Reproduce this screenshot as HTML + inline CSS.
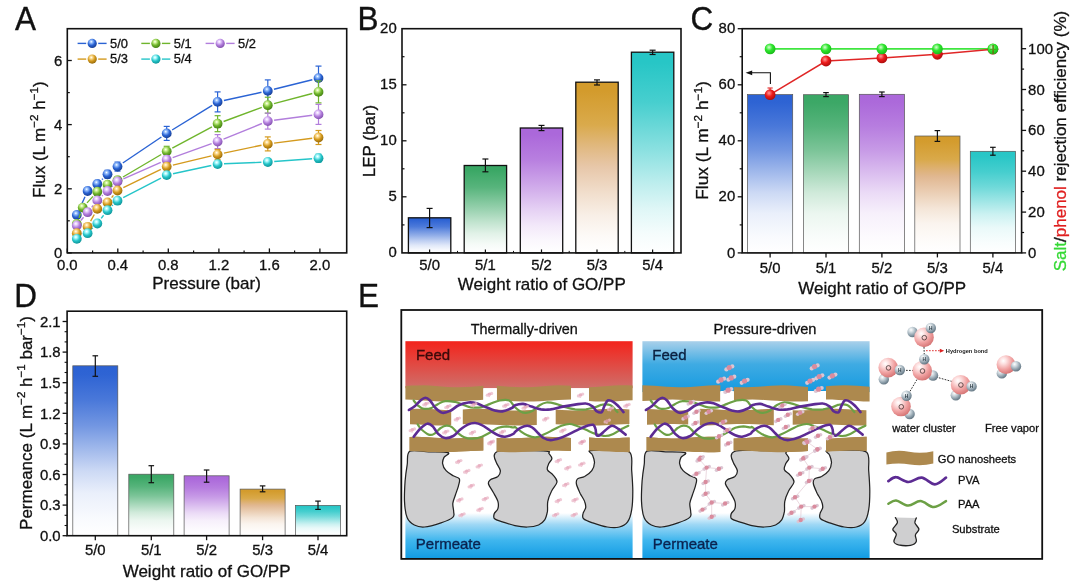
<!DOCTYPE html>
<html lang="en">
<head>
<meta charset="utf-8">
<title>Figure</title>
<style>
html,body{margin:0;padding:0;background:#ffffff;}
body{width:1080px;height:586px;overflow:hidden;font-family:"Liberation Sans", sans-serif;}
svg{display:block;will-change:transform;filter:blur(0.3px);}
svg text{font-family:"Liberation Sans", sans-serif;}
</style>
</head>
<body>
<svg width="1080" height="586" viewBox="0 0 1080 586">
<rect x="0" y="0" width="1080" height="586" fill="#ffffff"/>
<defs>
<radialGradient id="sb" cx="0.40" cy="0.32" r="0.72"><stop offset="0" stop-color="#ffffff"/><stop offset="0.18" stop-color="#9cc4ff"/><stop offset="0.55" stop-color="#2a63d4"/><stop offset="1" stop-color="#163a8a"/></radialGradient>
<linearGradient id="barb" x1="0" y1="0" x2="0" y2="1"><stop offset="0" stop-color="#2c62d3" stop-opacity="1"/><stop offset="0.05" stop-color="#2c62d3" stop-opacity="0.99"/><stop offset="0.2" stop-color="#2c62d3" stop-opacity="0.86"/><stop offset="0.35" stop-color="#2c62d3" stop-opacity="0.67"/><stop offset="0.5" stop-color="#2c62d3" stop-opacity="0.43"/><stop offset="0.62" stop-color="#2c62d3" stop-opacity="0.24"/><stop offset="0.75" stop-color="#2c62d3" stop-opacity="0.1"/><stop offset="0.9" stop-color="#2c62d3" stop-opacity="0.03"/><stop offset="1" stop-color="#2c62d3" stop-opacity="0"/></linearGradient>
<linearGradient id="barBb" x1="0" y1="0" x2="0" y2="1"><stop offset="0" stop-color="#2c62d3" stop-opacity="1"/><stop offset="0.05" stop-color="#2c62d3" stop-opacity="1"/><stop offset="0.25" stop-color="#2c62d3" stop-opacity="0.85"/><stop offset="0.5" stop-color="#2c62d3" stop-opacity="0.52"/><stop offset="0.65" stop-color="#2c62d3" stop-opacity="0.31"/><stop offset="0.78" stop-color="#2c62d3" stop-opacity="0.15"/><stop offset="0.9" stop-color="#2c62d3" stop-opacity="0.05"/><stop offset="1" stop-color="#2c62d3" stop-opacity="0"/></linearGradient>
<radialGradient id="sg" cx="0.40" cy="0.32" r="0.72"><stop offset="0" stop-color="#ffffff"/><stop offset="0.18" stop-color="#d3f59a"/><stop offset="0.55" stop-color="#6fb52c"/><stop offset="1" stop-color="#3f7a10"/></radialGradient>
<linearGradient id="barg" x1="0" y1="0" x2="0" y2="1"><stop offset="0" stop-color="#3aa765" stop-opacity="1"/><stop offset="0.05" stop-color="#3aa765" stop-opacity="0.99"/><stop offset="0.2" stop-color="#3aa765" stop-opacity="0.86"/><stop offset="0.35" stop-color="#3aa765" stop-opacity="0.67"/><stop offset="0.5" stop-color="#3aa765" stop-opacity="0.43"/><stop offset="0.62" stop-color="#3aa765" stop-opacity="0.24"/><stop offset="0.75" stop-color="#3aa765" stop-opacity="0.1"/><stop offset="0.9" stop-color="#3aa765" stop-opacity="0.03"/><stop offset="1" stop-color="#3aa765" stop-opacity="0"/></linearGradient>
<linearGradient id="barBg" x1="0" y1="0" x2="0" y2="1"><stop offset="0" stop-color="#3aa765" stop-opacity="1"/><stop offset="0.05" stop-color="#3aa765" stop-opacity="1"/><stop offset="0.25" stop-color="#3aa765" stop-opacity="0.85"/><stop offset="0.5" stop-color="#3aa765" stop-opacity="0.52"/><stop offset="0.65" stop-color="#3aa765" stop-opacity="0.31"/><stop offset="0.78" stop-color="#3aa765" stop-opacity="0.15"/><stop offset="0.9" stop-color="#3aa765" stop-opacity="0.05"/><stop offset="1" stop-color="#3aa765" stop-opacity="0"/></linearGradient>
<radialGradient id="sp" cx="0.40" cy="0.32" r="0.72"><stop offset="0" stop-color="#ffffff"/><stop offset="0.18" stop-color="#ecd6ff"/><stop offset="0.55" stop-color="#b27edc"/><stop offset="1" stop-color="#7d4aa8"/></radialGradient>
<linearGradient id="barp" x1="0" y1="0" x2="0" y2="1"><stop offset="0" stop-color="#ab68da" stop-opacity="1"/><stop offset="0.05" stop-color="#ab68da" stop-opacity="0.99"/><stop offset="0.2" stop-color="#ab68da" stop-opacity="0.86"/><stop offset="0.35" stop-color="#ab68da" stop-opacity="0.67"/><stop offset="0.5" stop-color="#ab68da" stop-opacity="0.43"/><stop offset="0.62" stop-color="#ab68da" stop-opacity="0.24"/><stop offset="0.75" stop-color="#ab68da" stop-opacity="0.1"/><stop offset="0.9" stop-color="#ab68da" stop-opacity="0.03"/><stop offset="1" stop-color="#ab68da" stop-opacity="0"/></linearGradient>
<linearGradient id="barBp" x1="0" y1="0" x2="0" y2="1"><stop offset="0" stop-color="#ab68da" stop-opacity="1"/><stop offset="0.05" stop-color="#ab68da" stop-opacity="1"/><stop offset="0.25" stop-color="#ab68da" stop-opacity="0.85"/><stop offset="0.5" stop-color="#ab68da" stop-opacity="0.52"/><stop offset="0.65" stop-color="#ab68da" stop-opacity="0.31"/><stop offset="0.78" stop-color="#ab68da" stop-opacity="0.15"/><stop offset="0.9" stop-color="#ab68da" stop-opacity="0.05"/><stop offset="1" stop-color="#ab68da" stop-opacity="0"/></linearGradient>
<radialGradient id="so" cx="0.40" cy="0.32" r="0.72"><stop offset="0" stop-color="#ffffff"/><stop offset="0.18" stop-color="#ffe09a"/><stop offset="0.55" stop-color="#d49a1e"/><stop offset="1" stop-color="#8f6408"/></radialGradient>
<linearGradient id="baro" x1="0" y1="0" x2="0" y2="1"><stop offset="0" stop-color="#d39b2c" stop-opacity="1"/><stop offset="0.05" stop-color="#d39b2c" stop-opacity="0.99"/><stop offset="0.2" stop-color="#d39b2c" stop-opacity="0.86"/><stop offset="0.35" stop-color="#d2955c" stop-opacity="0.67"/><stop offset="0.5" stop-color="#d2955c" stop-opacity="0.43"/><stop offset="0.62" stop-color="#d2955c" stop-opacity="0.24"/><stop offset="0.75" stop-color="#d2955c" stop-opacity="0.1"/><stop offset="0.9" stop-color="#d2955c" stop-opacity="0.03"/><stop offset="1" stop-color="#d2955c" stop-opacity="0"/></linearGradient>
<linearGradient id="barBo" x1="0" y1="0" x2="0" y2="1"><stop offset="0" stop-color="#d39b2c" stop-opacity="1"/><stop offset="0.05" stop-color="#d39b2c" stop-opacity="1"/><stop offset="0.25" stop-color="#d39b2c" stop-opacity="0.85"/><stop offset="0.5" stop-color="#d2955c" stop-opacity="0.52"/><stop offset="0.65" stop-color="#d2955c" stop-opacity="0.31"/><stop offset="0.78" stop-color="#d2955c" stop-opacity="0.15"/><stop offset="0.9" stop-color="#d2955c" stop-opacity="0.05"/><stop offset="1" stop-color="#d2955c" stop-opacity="0"/></linearGradient>
<radialGradient id="st" cx="0.40" cy="0.32" r="0.72"><stop offset="0" stop-color="#ffffff"/><stop offset="0.18" stop-color="#b2fbff"/><stop offset="0.55" stop-color="#25c5c9"/><stop offset="1" stop-color="#0c8f93"/></radialGradient>
<linearGradient id="bart" x1="0" y1="0" x2="0" y2="1"><stop offset="0" stop-color="#27c6c6" stop-opacity="1"/><stop offset="0.05" stop-color="#27c6c6" stop-opacity="0.99"/><stop offset="0.2" stop-color="#27c6c6" stop-opacity="0.86"/><stop offset="0.35" stop-color="#27c6c6" stop-opacity="0.67"/><stop offset="0.5" stop-color="#27c6c6" stop-opacity="0.43"/><stop offset="0.62" stop-color="#27c6c6" stop-opacity="0.24"/><stop offset="0.75" stop-color="#27c6c6" stop-opacity="0.1"/><stop offset="0.9" stop-color="#27c6c6" stop-opacity="0.03"/><stop offset="1" stop-color="#27c6c6" stop-opacity="0"/></linearGradient>
<linearGradient id="barBt" x1="0" y1="0" x2="0" y2="1"><stop offset="0" stop-color="#27c6c6" stop-opacity="1"/><stop offset="0.05" stop-color="#27c6c6" stop-opacity="1"/><stop offset="0.25" stop-color="#27c6c6" stop-opacity="0.85"/><stop offset="0.5" stop-color="#27c6c6" stop-opacity="0.52"/><stop offset="0.65" stop-color="#27c6c6" stop-opacity="0.31"/><stop offset="0.78" stop-color="#27c6c6" stop-opacity="0.15"/><stop offset="0.9" stop-color="#27c6c6" stop-opacity="0.05"/><stop offset="1" stop-color="#27c6c6" stop-opacity="0"/></linearGradient>
<radialGradient id="sgreen" cx="0.4" cy="0.35" r="0.7"><stop offset="0" stop-color="#d6ffd0"/><stop offset="0.45" stop-color="#2fe62f"/><stop offset="1" stop-color="#16b516"/></radialGradient>
<radialGradient id="sred" cx="0.4" cy="0.35" r="0.7"><stop offset="0" stop-color="#ff9a9a"/><stop offset="0.45" stop-color="#ee1c1c"/><stop offset="1" stop-color="#a50a0a"/></radialGradient>
<radialGradient id="oxy" cx="0.36" cy="0.30" r="0.78"><stop offset="0" stop-color="#ffffff"/><stop offset="0.22" stop-color="#fde0e0"/><stop offset="0.6" stop-color="#f0a0a0"/><stop offset="1" stop-color="#cf6c6c"/></radialGradient>
<radialGradient id="hyd" cx="0.36" cy="0.30" r="0.78"><stop offset="0" stop-color="#ffffff"/><stop offset="0.3" stop-color="#cdd7dd"/><stop offset="0.7" stop-color="#8799a5"/><stop offset="1" stop-color="#566975"/></radialGradient>
<linearGradient id="gred" x1="0" y1="0" x2="0" y2="1"><stop offset="0" stop-color="#f3241c"/><stop offset="1" stop-color="#cf6f6a"/></linearGradient>
<linearGradient id="gblueTop" x1="0" y1="0" x2="0" y2="1"><stop offset="0" stop-color="#a9d0ea"/><stop offset="0.45" stop-color="#3fabe3"/><stop offset="1" stop-color="#159ae0"/></linearGradient>
<linearGradient id="gblueBot" x1="0" y1="0" x2="0" y2="1"><stop offset="0" stop-color="#ffffff"/><stop offset="0.25" stop-color="#9fd8f5"/><stop offset="0.6" stop-color="#3fb6ee"/><stop offset="1" stop-color="#119be3"/></linearGradient>
</defs>
<text transform="translate(15.0,29.8) scale(0.94,1)" font-size="33.5" fill="#111" stroke="#111" stroke-width="0.35">A</text>
<text transform="translate(357.4,30.0) scale(0.94,1)" font-size="33.5" fill="#111" stroke="#111" stroke-width="0.35">B</text>
<text transform="translate(690.6,30.2) scale(0.94,1)" font-size="33.5" fill="#111" stroke="#111" stroke-width="0.35">C</text>
<text transform="translate(14.2,306.9) scale(0.94,1)" font-size="33.5" fill="#111" stroke="#111" stroke-width="0.35">D</text>
<text transform="translate(358.0,306.9) scale(0.94,1)" font-size="33.5" fill="#111" stroke="#111" stroke-width="0.35">E</text>
<line x1="67.3" y1="252.9" x2="67.3" y2="248.4" stroke="#111" stroke-width="1.3" />
<text x="67.3" y="269.8" font-size="14.9" text-anchor="middle" fill="#111"  stroke="#111" stroke-width="0.3">0.0</text>
<line x1="117.8" y1="252.9" x2="117.8" y2="248.4" stroke="#111" stroke-width="1.3" />
<text x="117.8" y="269.8" font-size="14.9" text-anchor="middle" fill="#111"  stroke="#111" stroke-width="0.3">0.4</text>
<line x1="168.3" y1="252.9" x2="168.3" y2="248.4" stroke="#111" stroke-width="1.3" />
<text x="168.3" y="269.8" font-size="14.9" text-anchor="middle" fill="#111"  stroke="#111" stroke-width="0.3">0.8</text>
<line x1="218.9" y1="252.9" x2="218.9" y2="248.4" stroke="#111" stroke-width="1.3" />
<text x="218.9" y="269.8" font-size="14.9" text-anchor="middle" fill="#111"  stroke="#111" stroke-width="0.3">1.2</text>
<line x1="269.4" y1="252.9" x2="269.4" y2="248.4" stroke="#111" stroke-width="1.3" />
<text x="269.4" y="269.8" font-size="14.9" text-anchor="middle" fill="#111"  stroke="#111" stroke-width="0.3">1.6</text>
<line x1="319.9" y1="252.9" x2="319.9" y2="248.4" stroke="#111" stroke-width="1.3" />
<text x="319.9" y="269.8" font-size="14.9" text-anchor="middle" fill="#111"  stroke="#111" stroke-width="0.3">2.0</text>
<line x1="92.6" y1="252.9" x2="92.6" y2="250.4" stroke="#111" stroke-width="1.2" />
<line x1="143.1" y1="252.9" x2="143.1" y2="250.4" stroke="#111" stroke-width="1.2" />
<line x1="193.6" y1="252.9" x2="193.6" y2="250.4" stroke="#111" stroke-width="1.2" />
<line x1="244.1" y1="252.9" x2="244.1" y2="250.4" stroke="#111" stroke-width="1.2" />
<line x1="294.6" y1="252.9" x2="294.6" y2="250.4" stroke="#111" stroke-width="1.2" />
<line x1="67.3" y1="252.9" x2="71.8" y2="252.9" stroke="#111" stroke-width="1.3" />
<text x="62.3" y="258.2" font-size="14.9" text-anchor="end" fill="#111"  stroke="#111" stroke-width="0.3">0</text>
<line x1="67.3" y1="188.8" x2="71.8" y2="188.8" stroke="#111" stroke-width="1.3" />
<text x="62.3" y="194.1" font-size="14.9" text-anchor="end" fill="#111"  stroke="#111" stroke-width="0.3">2</text>
<line x1="67.3" y1="124.6" x2="71.8" y2="124.6" stroke="#111" stroke-width="1.3" />
<text x="62.3" y="129.9" font-size="14.9" text-anchor="end" fill="#111"  stroke="#111" stroke-width="0.3">4</text>
<line x1="67.3" y1="60.5" x2="71.8" y2="60.5" stroke="#111" stroke-width="1.3" />
<text x="62.3" y="65.8" font-size="14.9" text-anchor="end" fill="#111"  stroke="#111" stroke-width="0.3">6</text>
<line x1="67.3" y1="220.8" x2="69.8" y2="220.8" stroke="#111" stroke-width="1.2" />
<line x1="67.3" y1="156.7" x2="69.8" y2="156.7" stroke="#111" stroke-width="1.2" />
<line x1="67.3" y1="92.6" x2="69.8" y2="92.6" stroke="#111" stroke-width="1.2" />
<text x="206.5" y="288.6" font-size="17" text-anchor="middle" fill="#111"  stroke="#111" stroke-width="0.3">Pressure (bar)</text>
<text transform="translate(44.8,139.7) rotate(-90)" font-size="17" text-anchor="middle" fill="#111" stroke="#111" stroke-width="0.3">Flux (L m<tspan dy="-6.5" font-size="11.6">−2</tspan><tspan dy="6.5" font-size="17"> h</tspan><tspan dy="-6.5" font-size="11.6">−1</tspan><tspan dy="6.5" font-size="17">)</tspan></text>
<line x1="79.4" y1="209.2" x2="85.0" y2="196.8" stroke="#2a63d4" stroke-width="1.4" />
<line x1="101.9" y1="179.6" x2="102.9" y2="178.7" stroke="#2a63d4" stroke-width="1.4" />
<line x1="122.8" y1="163.0" x2="161.4" y2="137.0" stroke="#2a63d4" stroke-width="1.4" />
<line x1="172.1" y1="130.0" x2="212.2" y2="105.3" stroke="#2a63d4" stroke-width="1.4" />
<line x1="223.9" y1="100.5" x2="261.5" y2="92.3" stroke="#2a63d4" stroke-width="1.4" />
<line x1="274.0" y1="89.3" x2="312.3" y2="79.7" stroke="#2a63d4" stroke-width="1.4" />
<line x1="76.8" y1="212.0" x2="76.8" y2="218.0" stroke="#2a63d4" stroke-width="1.2" />
<line x1="73.8" y1="212.0" x2="79.8" y2="212.0" stroke="#2a63d4" stroke-width="1.2" />
<line x1="73.8" y1="218.0" x2="79.8" y2="218.0" stroke="#2a63d4" stroke-width="1.2" />
<line x1="87.6" y1="188.0" x2="87.6" y2="194.0" stroke="#2a63d4" stroke-width="1.2" />
<line x1="84.6" y1="188.0" x2="90.6" y2="188.0" stroke="#2a63d4" stroke-width="1.2" />
<line x1="84.6" y1="194.0" x2="90.6" y2="194.0" stroke="#2a63d4" stroke-width="1.2" />
<line x1="97.3" y1="180.5" x2="97.3" y2="187.5" stroke="#2a63d4" stroke-width="1.2" />
<line x1="94.3" y1="180.5" x2="100.3" y2="180.5" stroke="#2a63d4" stroke-width="1.2" />
<line x1="94.3" y1="187.5" x2="100.3" y2="187.5" stroke="#2a63d4" stroke-width="1.2" />
<line x1="107.5" y1="170.3" x2="107.5" y2="178.3" stroke="#2a63d4" stroke-width="1.2" />
<line x1="104.5" y1="170.3" x2="110.5" y2="170.3" stroke="#2a63d4" stroke-width="1.2" />
<line x1="104.5" y1="178.3" x2="110.5" y2="178.3" stroke="#2a63d4" stroke-width="1.2" />
<line x1="117.5" y1="162.1" x2="117.5" y2="171.1" stroke="#2a63d4" stroke-width="1.2" />
<line x1="114.5" y1="162.1" x2="120.5" y2="162.1" stroke="#2a63d4" stroke-width="1.2" />
<line x1="114.5" y1="171.1" x2="120.5" y2="171.1" stroke="#2a63d4" stroke-width="1.2" />
<line x1="166.7" y1="126.4" x2="166.7" y2="140.4" stroke="#2a63d4" stroke-width="1.2" />
<line x1="163.7" y1="126.4" x2="169.7" y2="126.4" stroke="#2a63d4" stroke-width="1.2" />
<line x1="163.7" y1="140.4" x2="169.7" y2="140.4" stroke="#2a63d4" stroke-width="1.2" />
<line x1="217.6" y1="91.9" x2="217.6" y2="111.9" stroke="#2a63d4" stroke-width="1.2" />
<line x1="214.6" y1="91.9" x2="220.6" y2="91.9" stroke="#2a63d4" stroke-width="1.2" />
<line x1="214.6" y1="111.9" x2="220.6" y2="111.9" stroke="#2a63d4" stroke-width="1.2" />
<line x1="267.8" y1="79.9" x2="267.8" y2="101.9" stroke="#2a63d4" stroke-width="1.2" />
<line x1="264.8" y1="79.9" x2="270.8" y2="79.9" stroke="#2a63d4" stroke-width="1.2" />
<line x1="264.8" y1="101.9" x2="270.8" y2="101.9" stroke="#2a63d4" stroke-width="1.2" />
<line x1="318.5" y1="66.1" x2="318.5" y2="90.1" stroke="#2a63d4" stroke-width="1.2" />
<line x1="315.5" y1="66.1" x2="321.5" y2="66.1" stroke="#2a63d4" stroke-width="1.2" />
<line x1="315.5" y1="90.1" x2="321.5" y2="90.1" stroke="#2a63d4" stroke-width="1.2" />
<circle cx="76.8" cy="215.0" r="4.9" fill="url(#sb)"/>
<circle cx="87.6" cy="191.0" r="4.9" fill="url(#sb)"/>
<circle cx="97.3" cy="184.0" r="4.9" fill="url(#sb)"/>
<circle cx="107.5" cy="174.3" r="4.9" fill="url(#sb)"/>
<circle cx="117.5" cy="166.6" r="4.9" fill="url(#sb)"/>
<circle cx="166.7" cy="133.4" r="4.9" fill="url(#sb)"/>
<circle cx="217.6" cy="101.9" r="4.9" fill="url(#sb)"/>
<circle cx="267.8" cy="90.9" r="4.9" fill="url(#sb)"/>
<circle cx="318.5" cy="78.1" r="4.9" fill="url(#sb)"/>
<line x1="79.0" y1="218.0" x2="80.5" y2="213.6" stroke="#6fb52c" stroke-width="1.4" />
<line x1="87.0" y1="202.9" x2="93.0" y2="196.4" stroke="#6fb52c" stroke-width="1.4" />
<line x1="123.0" y1="177.0" x2="161.2" y2="154.5" stroke="#6fb52c" stroke-width="1.4" />
<line x1="172.3" y1="148.2" x2="212.0" y2="126.8" stroke="#6fb52c" stroke-width="1.4" />
<line x1="223.6" y1="121.5" x2="261.8" y2="107.4" stroke="#6fb52c" stroke-width="1.4" />
<line x1="274.0" y1="103.6" x2="312.3" y2="93.5" stroke="#6fb52c" stroke-width="1.4" />
<line x1="76.8" y1="221.5" x2="76.8" y2="226.5" stroke="#6fb52c" stroke-width="1.2" />
<line x1="73.8" y1="221.5" x2="79.8" y2="221.5" stroke="#6fb52c" stroke-width="1.2" />
<line x1="73.8" y1="226.5" x2="79.8" y2="226.5" stroke="#6fb52c" stroke-width="1.2" />
<line x1="82.7" y1="204.6" x2="82.7" y2="210.6" stroke="#6fb52c" stroke-width="1.2" />
<line x1="79.7" y1="204.6" x2="85.7" y2="204.6" stroke="#6fb52c" stroke-width="1.2" />
<line x1="79.7" y1="210.6" x2="85.7" y2="210.6" stroke="#6fb52c" stroke-width="1.2" />
<line x1="97.3" y1="188.7" x2="97.3" y2="194.7" stroke="#6fb52c" stroke-width="1.2" />
<line x1="94.3" y1="188.7" x2="100.3" y2="188.7" stroke="#6fb52c" stroke-width="1.2" />
<line x1="94.3" y1="194.7" x2="100.3" y2="194.7" stroke="#6fb52c" stroke-width="1.2" />
<line x1="107.5" y1="181.6" x2="107.5" y2="187.6" stroke="#6fb52c" stroke-width="1.2" />
<line x1="104.5" y1="181.6" x2="110.5" y2="181.6" stroke="#6fb52c" stroke-width="1.2" />
<line x1="104.5" y1="187.6" x2="110.5" y2="187.6" stroke="#6fb52c" stroke-width="1.2" />
<line x1="117.5" y1="176.7" x2="117.5" y2="183.7" stroke="#6fb52c" stroke-width="1.2" />
<line x1="114.5" y1="176.7" x2="120.5" y2="176.7" stroke="#6fb52c" stroke-width="1.2" />
<line x1="114.5" y1="183.7" x2="120.5" y2="183.7" stroke="#6fb52c" stroke-width="1.2" />
<line x1="166.7" y1="146.3" x2="166.7" y2="156.3" stroke="#6fb52c" stroke-width="1.2" />
<line x1="163.7" y1="146.3" x2="169.7" y2="146.3" stroke="#6fb52c" stroke-width="1.2" />
<line x1="163.7" y1="156.3" x2="169.7" y2="156.3" stroke="#6fb52c" stroke-width="1.2" />
<line x1="217.6" y1="115.7" x2="217.6" y2="131.7" stroke="#6fb52c" stroke-width="1.2" />
<line x1="214.6" y1="115.7" x2="220.6" y2="115.7" stroke="#6fb52c" stroke-width="1.2" />
<line x1="214.6" y1="131.7" x2="220.6" y2="131.7" stroke="#6fb52c" stroke-width="1.2" />
<line x1="267.8" y1="97.2" x2="267.8" y2="113.2" stroke="#6fb52c" stroke-width="1.2" />
<line x1="264.8" y1="97.2" x2="270.8" y2="97.2" stroke="#6fb52c" stroke-width="1.2" />
<line x1="264.8" y1="113.2" x2="270.8" y2="113.2" stroke="#6fb52c" stroke-width="1.2" />
<line x1="318.5" y1="80.9" x2="318.5" y2="102.9" stroke="#6fb52c" stroke-width="1.2" />
<line x1="315.5" y1="80.9" x2="321.5" y2="80.9" stroke="#6fb52c" stroke-width="1.2" />
<line x1="315.5" y1="102.9" x2="321.5" y2="102.9" stroke="#6fb52c" stroke-width="1.2" />
<circle cx="76.8" cy="224.0" r="4.9" fill="url(#sg)"/>
<circle cx="82.7" cy="207.6" r="4.9" fill="url(#sg)"/>
<circle cx="97.3" cy="191.7" r="4.9" fill="url(#sg)"/>
<circle cx="107.5" cy="184.6" r="4.9" fill="url(#sg)"/>
<circle cx="117.5" cy="180.2" r="4.9" fill="url(#sg)"/>
<circle cx="166.7" cy="151.3" r="4.9" fill="url(#sg)"/>
<circle cx="217.6" cy="123.7" r="4.9" fill="url(#sg)"/>
<circle cx="267.8" cy="105.2" r="4.9" fill="url(#sg)"/>
<circle cx="318.5" cy="91.9" r="4.9" fill="url(#sg)"/>
<line x1="80.8" y1="220.5" x2="83.6" y2="217.2" stroke="#b27edc" stroke-width="1.4" />
<line x1="91.7" y1="207.3" x2="93.2" y2="205.3" stroke="#b27edc" stroke-width="1.4" />
<line x1="102.0" y1="196.1" x2="102.8" y2="195.3" stroke="#b27edc" stroke-width="1.4" />
<line x1="112.1" y1="186.6" x2="112.9" y2="185.9" stroke="#b27edc" stroke-width="1.4" />
<line x1="123.4" y1="178.9" x2="160.8" y2="162.3" stroke="#b27edc" stroke-width="1.4" />
<line x1="172.7" y1="157.6" x2="211.6" y2="143.7" stroke="#b27edc" stroke-width="1.4" />
<line x1="223.5" y1="139.2" x2="261.9" y2="123.5" stroke="#b27edc" stroke-width="1.4" />
<line x1="274.1" y1="120.3" x2="312.2" y2="115.2" stroke="#b27edc" stroke-width="1.4" />
<line x1="76.8" y1="223.0" x2="76.8" y2="228.0" stroke="#b27edc" stroke-width="1.2" />
<line x1="73.8" y1="223.0" x2="79.8" y2="223.0" stroke="#b27edc" stroke-width="1.2" />
<line x1="73.8" y1="228.0" x2="79.8" y2="228.0" stroke="#b27edc" stroke-width="1.2" />
<line x1="87.6" y1="209.2" x2="87.6" y2="215.2" stroke="#b27edc" stroke-width="1.2" />
<line x1="84.6" y1="209.2" x2="90.6" y2="209.2" stroke="#b27edc" stroke-width="1.2" />
<line x1="84.6" y1="215.2" x2="90.6" y2="215.2" stroke="#b27edc" stroke-width="1.2" />
<line x1="97.3" y1="197.4" x2="97.3" y2="203.4" stroke="#b27edc" stroke-width="1.2" />
<line x1="94.3" y1="197.4" x2="100.3" y2="197.4" stroke="#b27edc" stroke-width="1.2" />
<line x1="94.3" y1="203.4" x2="100.3" y2="203.4" stroke="#b27edc" stroke-width="1.2" />
<line x1="107.5" y1="188.0" x2="107.5" y2="194.0" stroke="#b27edc" stroke-width="1.2" />
<line x1="104.5" y1="188.0" x2="110.5" y2="188.0" stroke="#b27edc" stroke-width="1.2" />
<line x1="104.5" y1="194.0" x2="110.5" y2="194.0" stroke="#b27edc" stroke-width="1.2" />
<line x1="117.5" y1="178.5" x2="117.5" y2="184.5" stroke="#b27edc" stroke-width="1.2" />
<line x1="114.5" y1="178.5" x2="120.5" y2="178.5" stroke="#b27edc" stroke-width="1.2" />
<line x1="114.5" y1="184.5" x2="120.5" y2="184.5" stroke="#b27edc" stroke-width="1.2" />
<line x1="166.7" y1="155.7" x2="166.7" y2="163.7" stroke="#b27edc" stroke-width="1.2" />
<line x1="163.7" y1="155.7" x2="169.7" y2="155.7" stroke="#b27edc" stroke-width="1.2" />
<line x1="163.7" y1="163.7" x2="169.7" y2="163.7" stroke="#b27edc" stroke-width="1.2" />
<line x1="217.6" y1="134.6" x2="217.6" y2="148.6" stroke="#b27edc" stroke-width="1.2" />
<line x1="214.6" y1="134.6" x2="220.6" y2="134.6" stroke="#b27edc" stroke-width="1.2" />
<line x1="214.6" y1="148.6" x2="220.6" y2="148.6" stroke="#b27edc" stroke-width="1.2" />
<line x1="267.8" y1="113.1" x2="267.8" y2="129.1" stroke="#b27edc" stroke-width="1.2" />
<line x1="264.8" y1="113.1" x2="270.8" y2="113.1" stroke="#b27edc" stroke-width="1.2" />
<line x1="264.8" y1="129.1" x2="270.8" y2="129.1" stroke="#b27edc" stroke-width="1.2" />
<line x1="318.5" y1="104.4" x2="318.5" y2="124.4" stroke="#b27edc" stroke-width="1.2" />
<line x1="315.5" y1="104.4" x2="321.5" y2="104.4" stroke="#b27edc" stroke-width="1.2" />
<line x1="315.5" y1="124.4" x2="321.5" y2="124.4" stroke="#b27edc" stroke-width="1.2" />
<circle cx="76.8" cy="225.5" r="4.9" fill="url(#sp)"/>
<circle cx="87.6" cy="212.2" r="4.9" fill="url(#sp)"/>
<circle cx="97.3" cy="200.4" r="4.9" fill="url(#sp)"/>
<circle cx="107.5" cy="191.0" r="4.9" fill="url(#sp)"/>
<circle cx="117.5" cy="181.5" r="4.9" fill="url(#sp)"/>
<circle cx="166.7" cy="159.7" r="4.9" fill="url(#sp)"/>
<circle cx="217.6" cy="141.6" r="4.9" fill="url(#sp)"/>
<circle cx="267.8" cy="121.1" r="4.9" fill="url(#sp)"/>
<circle cx="318.5" cy="114.4" r="4.9" fill="url(#sp)"/>
<line x1="90.6" y1="221.2" x2="94.3" y2="214.5" stroke="#d49a1e" stroke-width="1.4" />
<line x1="111.6" y1="197.6" x2="113.4" y2="195.4" stroke="#d49a1e" stroke-width="1.4" />
<line x1="123.3" y1="187.7" x2="160.9" y2="169.4" stroke="#d49a1e" stroke-width="1.4" />
<line x1="172.9" y1="165.1" x2="211.4" y2="155.9" stroke="#d49a1e" stroke-width="1.4" />
<line x1="223.9" y1="153.1" x2="261.5" y2="145.2" stroke="#d49a1e" stroke-width="1.4" />
<line x1="274.1" y1="143.1" x2="312.2" y2="138.3" stroke="#d49a1e" stroke-width="1.4" />
<line x1="76.8" y1="231.2" x2="76.8" y2="235.2" stroke="#d49a1e" stroke-width="1.2" />
<line x1="73.8" y1="231.2" x2="79.8" y2="231.2" stroke="#d49a1e" stroke-width="1.2" />
<line x1="73.8" y1="235.2" x2="79.8" y2="235.2" stroke="#d49a1e" stroke-width="1.2" />
<line x1="87.6" y1="224.8" x2="87.6" y2="228.8" stroke="#d49a1e" stroke-width="1.2" />
<line x1="84.6" y1="224.8" x2="90.6" y2="224.8" stroke="#d49a1e" stroke-width="1.2" />
<line x1="84.6" y1="228.8" x2="90.6" y2="228.8" stroke="#d49a1e" stroke-width="1.2" />
<line x1="97.3" y1="206.4" x2="97.3" y2="211.4" stroke="#d49a1e" stroke-width="1.2" />
<line x1="94.3" y1="206.4" x2="100.3" y2="206.4" stroke="#d49a1e" stroke-width="1.2" />
<line x1="94.3" y1="211.4" x2="100.3" y2="211.4" stroke="#d49a1e" stroke-width="1.2" />
<line x1="107.5" y1="200.0" x2="107.5" y2="205.0" stroke="#d49a1e" stroke-width="1.2" />
<line x1="104.5" y1="200.0" x2="110.5" y2="200.0" stroke="#d49a1e" stroke-width="1.2" />
<line x1="104.5" y1="205.0" x2="110.5" y2="205.0" stroke="#d49a1e" stroke-width="1.2" />
<line x1="117.5" y1="187.5" x2="117.5" y2="193.5" stroke="#d49a1e" stroke-width="1.2" />
<line x1="114.5" y1="187.5" x2="120.5" y2="187.5" stroke="#d49a1e" stroke-width="1.2" />
<line x1="114.5" y1="193.5" x2="120.5" y2="193.5" stroke="#d49a1e" stroke-width="1.2" />
<line x1="166.7" y1="163.1" x2="166.7" y2="170.1" stroke="#d49a1e" stroke-width="1.2" />
<line x1="163.7" y1="163.1" x2="169.7" y2="163.1" stroke="#d49a1e" stroke-width="1.2" />
<line x1="163.7" y1="170.1" x2="169.7" y2="170.1" stroke="#d49a1e" stroke-width="1.2" />
<line x1="217.6" y1="149.4" x2="217.6" y2="159.4" stroke="#d49a1e" stroke-width="1.2" />
<line x1="214.6" y1="149.4" x2="220.6" y2="149.4" stroke="#d49a1e" stroke-width="1.2" />
<line x1="214.6" y1="159.4" x2="220.6" y2="159.4" stroke="#d49a1e" stroke-width="1.2" />
<line x1="267.8" y1="136.9" x2="267.8" y2="150.9" stroke="#d49a1e" stroke-width="1.2" />
<line x1="264.8" y1="136.9" x2="270.8" y2="136.9" stroke="#d49a1e" stroke-width="1.2" />
<line x1="264.8" y1="150.9" x2="270.8" y2="150.9" stroke="#d49a1e" stroke-width="1.2" />
<line x1="318.5" y1="130.5" x2="318.5" y2="144.5" stroke="#d49a1e" stroke-width="1.2" />
<line x1="315.5" y1="130.5" x2="321.5" y2="130.5" stroke="#d49a1e" stroke-width="1.2" />
<line x1="315.5" y1="144.5" x2="321.5" y2="144.5" stroke="#d49a1e" stroke-width="1.2" />
<circle cx="76.8" cy="233.2" r="4.9" fill="url(#so)"/>
<circle cx="87.6" cy="226.8" r="4.9" fill="url(#so)"/>
<circle cx="97.3" cy="208.9" r="4.9" fill="url(#so)"/>
<circle cx="107.5" cy="202.5" r="4.9" fill="url(#so)"/>
<circle cx="117.5" cy="190.5" r="4.9" fill="url(#so)"/>
<circle cx="166.7" cy="166.6" r="4.9" fill="url(#so)"/>
<circle cx="217.6" cy="154.4" r="4.9" fill="url(#so)"/>
<circle cx="267.8" cy="143.9" r="4.9" fill="url(#so)"/>
<circle cx="318.5" cy="137.5" r="4.9" fill="url(#so)"/>
<line x1="92.1" y1="228.7" x2="92.8" y2="228.0" stroke="#25c5c9" stroke-width="1.4" />
<line x1="101.2" y1="218.4" x2="103.6" y2="215.3" stroke="#25c5c9" stroke-width="1.4" />
<line x1="112.1" y1="205.8" x2="112.9" y2="205.1" stroke="#25c5c9" stroke-width="1.4" />
<line x1="123.2" y1="197.7" x2="161.0" y2="178.1" stroke="#25c5c9" stroke-width="1.4" />
<line x1="173.0" y1="173.7" x2="211.3" y2="165.5" stroke="#25c5c9" stroke-width="1.4" />
<line x1="224.0" y1="163.8" x2="261.4" y2="162.3" stroke="#25c5c9" stroke-width="1.4" />
<line x1="274.2" y1="161.5" x2="312.1" y2="158.7" stroke="#25c5c9" stroke-width="1.4" />
<line x1="76.8" y1="236.8" x2="76.8" y2="240.8" stroke="#25c5c9" stroke-width="1.2" />
<line x1="73.8" y1="236.8" x2="79.8" y2="236.8" stroke="#25c5c9" stroke-width="1.2" />
<line x1="73.8" y1="240.8" x2="79.8" y2="240.8" stroke="#25c5c9" stroke-width="1.2" />
<line x1="87.6" y1="231.2" x2="87.6" y2="235.2" stroke="#25c5c9" stroke-width="1.2" />
<line x1="84.6" y1="231.2" x2="90.6" y2="231.2" stroke="#25c5c9" stroke-width="1.2" />
<line x1="84.6" y1="235.2" x2="90.6" y2="235.2" stroke="#25c5c9" stroke-width="1.2" />
<line x1="97.3" y1="221.5" x2="97.3" y2="225.5" stroke="#25c5c9" stroke-width="1.2" />
<line x1="94.3" y1="221.5" x2="100.3" y2="221.5" stroke="#25c5c9" stroke-width="1.2" />
<line x1="94.3" y1="225.5" x2="100.3" y2="225.5" stroke="#25c5c9" stroke-width="1.2" />
<line x1="107.5" y1="207.7" x2="107.5" y2="212.7" stroke="#25c5c9" stroke-width="1.2" />
<line x1="104.5" y1="207.7" x2="110.5" y2="207.7" stroke="#25c5c9" stroke-width="1.2" />
<line x1="104.5" y1="212.7" x2="110.5" y2="212.7" stroke="#25c5c9" stroke-width="1.2" />
<line x1="117.5" y1="198.2" x2="117.5" y2="203.2" stroke="#25c5c9" stroke-width="1.2" />
<line x1="114.5" y1="198.2" x2="120.5" y2="198.2" stroke="#25c5c9" stroke-width="1.2" />
<line x1="114.5" y1="203.2" x2="120.5" y2="203.2" stroke="#25c5c9" stroke-width="1.2" />
<line x1="166.7" y1="172.1" x2="166.7" y2="178.1" stroke="#25c5c9" stroke-width="1.2" />
<line x1="163.7" y1="172.1" x2="169.7" y2="172.1" stroke="#25c5c9" stroke-width="1.2" />
<line x1="163.7" y1="178.1" x2="169.7" y2="178.1" stroke="#25c5c9" stroke-width="1.2" />
<line x1="217.6" y1="161.1" x2="217.6" y2="167.1" stroke="#25c5c9" stroke-width="1.2" />
<line x1="214.6" y1="161.1" x2="220.6" y2="161.1" stroke="#25c5c9" stroke-width="1.2" />
<line x1="214.6" y1="167.1" x2="220.6" y2="167.1" stroke="#25c5c9" stroke-width="1.2" />
<line x1="267.8" y1="159.0" x2="267.8" y2="165.0" stroke="#25c5c9" stroke-width="1.2" />
<line x1="264.8" y1="159.0" x2="270.8" y2="159.0" stroke="#25c5c9" stroke-width="1.2" />
<line x1="264.8" y1="165.0" x2="270.8" y2="165.0" stroke="#25c5c9" stroke-width="1.2" />
<line x1="318.5" y1="154.2" x2="318.5" y2="162.2" stroke="#25c5c9" stroke-width="1.2" />
<line x1="315.5" y1="154.2" x2="321.5" y2="154.2" stroke="#25c5c9" stroke-width="1.2" />
<line x1="315.5" y1="162.2" x2="321.5" y2="162.2" stroke="#25c5c9" stroke-width="1.2" />
<circle cx="76.8" cy="238.8" r="4.9" fill="url(#st)"/>
<circle cx="87.6" cy="233.2" r="4.9" fill="url(#st)"/>
<circle cx="97.3" cy="223.5" r="4.9" fill="url(#st)"/>
<circle cx="107.5" cy="210.2" r="4.9" fill="url(#st)"/>
<circle cx="117.5" cy="200.7" r="4.9" fill="url(#st)"/>
<circle cx="166.7" cy="175.1" r="4.9" fill="url(#st)"/>
<circle cx="217.6" cy="164.1" r="4.9" fill="url(#st)"/>
<circle cx="267.8" cy="162.0" r="4.9" fill="url(#st)"/>
<circle cx="318.5" cy="158.2" r="4.9" fill="url(#st)"/>
<line x1="77.6" y1="43.4" x2="86.2" y2="43.4" stroke="#2a63d4" stroke-width="1.4" />
<line x1="98.2" y1="43.4" x2="106.6" y2="43.4" stroke="#2a63d4" stroke-width="1.4" />
<circle cx="92.2" cy="43.4" r="4.6" fill="url(#sb)"/>
<text x="110.1" y="47.7" font-size="12.9" text-anchor="start" fill="#111"  stroke="#111" stroke-width="0.3">5/0</text>
<line x1="141.3" y1="43.4" x2="149.9" y2="43.4" stroke="#6fb52c" stroke-width="1.4" />
<line x1="161.9" y1="43.4" x2="170.3" y2="43.4" stroke="#6fb52c" stroke-width="1.4" />
<circle cx="155.9" cy="43.4" r="4.6" fill="url(#sg)"/>
<text x="173.8" y="47.7" font-size="12.9" text-anchor="start" fill="#111"  stroke="#111" stroke-width="0.3">5/1</text>
<line x1="205.6" y1="43.4" x2="214.2" y2="43.4" stroke="#b27edc" stroke-width="1.4" />
<line x1="226.2" y1="43.4" x2="234.6" y2="43.4" stroke="#b27edc" stroke-width="1.4" />
<circle cx="220.2" cy="43.4" r="4.6" fill="url(#sp)"/>
<text x="238.1" y="47.7" font-size="12.9" text-anchor="start" fill="#111"  stroke="#111" stroke-width="0.3">5/2</text>
<line x1="77.6" y1="59.1" x2="86.2" y2="59.1" stroke="#d49a1e" stroke-width="1.4" />
<line x1="98.2" y1="59.1" x2="106.6" y2="59.1" stroke="#d49a1e" stroke-width="1.4" />
<circle cx="92.2" cy="59.1" r="4.6" fill="url(#so)"/>
<text x="110.1" y="63.4" font-size="12.9" text-anchor="start" fill="#111"  stroke="#111" stroke-width="0.3">5/3</text>
<line x1="141.3" y1="59.1" x2="149.9" y2="59.1" stroke="#25c5c9" stroke-width="1.4" />
<line x1="161.9" y1="59.1" x2="170.3" y2="59.1" stroke="#25c5c9" stroke-width="1.4" />
<circle cx="155.9" cy="59.1" r="4.6" fill="url(#st)"/>
<text x="173.8" y="63.4" font-size="12.9" text-anchor="start" fill="#111"  stroke="#111" stroke-width="0.3">5/4</text>
<rect x="67.3" y="28.7" width="279.4" height="224.2" fill="none" stroke="#111" stroke-width="1.6"/>
<rect x="408.4" y="217.8" width="42.4" height="35.1" fill="url(#barBb)" stroke="#111" stroke-width="1.3"/>
<line x1="429.6" y1="208.4" x2="429.6" y2="227.6" stroke="#111" stroke-width="1.2" />
<line x1="426.6" y1="208.4" x2="432.6" y2="208.4" stroke="#111" stroke-width="1.2" />
<line x1="426.6" y1="227.6" x2="432.6" y2="227.6" stroke="#111" stroke-width="1.2" />
<line x1="429.6" y1="252.9" x2="429.6" y2="249.4" stroke="#111" stroke-width="1.2" />
<text x="429.6" y="269.5" font-size="14.9" text-anchor="middle" fill="#111"  stroke="#111" stroke-width="0.3">5/0</text>
<rect x="464.2" y="165.5" width="42.4" height="87.4" fill="url(#barBg)" stroke="#111" stroke-width="1.3"/>
<line x1="485.4" y1="159.0" x2="485.4" y2="171.8" stroke="#111" stroke-width="1.2" />
<line x1="482.4" y1="159.0" x2="488.4" y2="159.0" stroke="#111" stroke-width="1.2" />
<line x1="482.4" y1="171.8" x2="488.4" y2="171.8" stroke="#111" stroke-width="1.2" />
<line x1="485.4" y1="252.9" x2="485.4" y2="249.4" stroke="#111" stroke-width="1.2" />
<text x="485.4" y="269.5" font-size="14.9" text-anchor="middle" fill="#111"  stroke="#111" stroke-width="0.3">5/1</text>
<rect x="520.3" y="128.0" width="42.4" height="124.9" fill="url(#barBp)" stroke="#111" stroke-width="1.3"/>
<line x1="541.5" y1="125.4" x2="541.5" y2="130.6" stroke="#111" stroke-width="1.2" />
<line x1="538.5" y1="125.4" x2="544.5" y2="125.4" stroke="#111" stroke-width="1.2" />
<line x1="538.5" y1="130.6" x2="544.5" y2="130.6" stroke="#111" stroke-width="1.2" />
<line x1="541.5" y1="252.9" x2="541.5" y2="249.4" stroke="#111" stroke-width="1.2" />
<text x="541.5" y="269.5" font-size="14.9" text-anchor="middle" fill="#111"  stroke="#111" stroke-width="0.3">5/2</text>
<rect x="575.8" y="82.2" width="42.4" height="170.7" fill="url(#barBo)" stroke="#111" stroke-width="1.3"/>
<line x1="597.0" y1="79.9" x2="597.0" y2="85.0" stroke="#111" stroke-width="1.2" />
<line x1="594.0" y1="79.9" x2="600.0" y2="79.9" stroke="#111" stroke-width="1.2" />
<line x1="594.0" y1="85.0" x2="600.0" y2="85.0" stroke="#111" stroke-width="1.2" />
<line x1="597.0" y1="252.9" x2="597.0" y2="249.4" stroke="#111" stroke-width="1.2" />
<text x="597.0" y="269.5" font-size="14.9" text-anchor="middle" fill="#111"  stroke="#111" stroke-width="0.3">5/3</text>
<rect x="631.4" y="52.2" width="42.4" height="200.7" fill="url(#barBt)" stroke="#111" stroke-width="1.3"/>
<line x1="652.6" y1="50.2" x2="652.6" y2="54.5" stroke="#111" stroke-width="1.2" />
<line x1="649.6" y1="50.2" x2="655.6" y2="50.2" stroke="#111" stroke-width="1.2" />
<line x1="649.6" y1="54.5" x2="655.6" y2="54.5" stroke="#111" stroke-width="1.2" />
<line x1="652.6" y1="252.9" x2="652.6" y2="249.4" stroke="#111" stroke-width="1.2" />
<text x="652.6" y="269.5" font-size="14.9" text-anchor="middle" fill="#111"  stroke="#111" stroke-width="0.3">5/4</text>
<line x1="457.5" y1="252.9" x2="457.5" y2="250.9" stroke="#111" stroke-width="1.0" />
<line x1="513.5" y1="252.9" x2="513.5" y2="250.9" stroke="#111" stroke-width="1.0" />
<line x1="569.2" y1="252.9" x2="569.2" y2="250.9" stroke="#111" stroke-width="1.0" />
<line x1="624.8" y1="252.9" x2="624.8" y2="250.9" stroke="#111" stroke-width="1.0" />
<text x="396.7" y="257.4" font-size="14.9" text-anchor="end" fill="#111"  stroke="#111" stroke-width="0.3">0</text>
<line x1="402.0" y1="196.8" x2="406.5" y2="196.8" stroke="#111" stroke-width="1.3" />
<text x="396.7" y="201.3" font-size="14.9" text-anchor="end" fill="#111"  stroke="#111" stroke-width="0.3">5</text>
<line x1="402.0" y1="140.8" x2="406.5" y2="140.8" stroke="#111" stroke-width="1.3" />
<text x="396.7" y="145.3" font-size="14.9" text-anchor="end" fill="#111"  stroke="#111" stroke-width="0.3">10</text>
<line x1="402.0" y1="84.8" x2="406.5" y2="84.8" stroke="#111" stroke-width="1.3" />
<text x="396.7" y="89.2" font-size="14.9" text-anchor="end" fill="#111"  stroke="#111" stroke-width="0.3">15</text>
<text x="396.7" y="33.2" font-size="14.9" text-anchor="end" fill="#111"  stroke="#111" stroke-width="0.3">20</text>
<line x1="402.0" y1="224.9" x2="404.5" y2="224.9" stroke="#111" stroke-width="1.2" />
<line x1="402.0" y1="168.8" x2="404.5" y2="168.8" stroke="#111" stroke-width="1.2" />
<line x1="402.0" y1="112.8" x2="404.5" y2="112.8" stroke="#111" stroke-width="1.2" />
<line x1="402.0" y1="56.7" x2="404.5" y2="56.7" stroke="#111" stroke-width="1.2" />
<text x="541.8" y="289.7" font-size="17" text-anchor="middle" fill="#111"  stroke="#111" stroke-width="0.3">Weight ratio of GO/PP</text>
<text transform="translate(375.0,141.0) rotate(-90)" font-size="17" text-anchor="middle" fill="#111" stroke="#111" stroke-width="0.3">LEP (bar)</text>
<rect x="402.0" y="28.7" width="279.0" height="224.2" fill="none" stroke="#111" stroke-width="1.6"/>
<rect x="747.5" y="94.6" width="45.2" height="158.3" fill="url(#barb)" stroke="#555" stroke-width="0.7"/>
<line x1="770.1" y1="91.5" x2="770.1" y2="97.0" stroke="#111" stroke-width="1.2" />
<line x1="767.3" y1="91.5" x2="772.9" y2="91.5" stroke="#111" stroke-width="1.2" />
<line x1="767.3" y1="97.0" x2="772.9" y2="97.0" stroke="#111" stroke-width="1.2" />
<line x1="770.1" y1="252.9" x2="770.1" y2="257.4" stroke="#111" stroke-width="1.3" />
<text x="770.1" y="272.8" font-size="14.9" text-anchor="middle" fill="#111"  stroke="#111" stroke-width="0.3">5/0</text>
<rect x="803.4" y="94.7" width="45.2" height="158.2" fill="url(#barg)" stroke="#555" stroke-width="0.7"/>
<line x1="826.0" y1="92.6" x2="826.0" y2="96.6" stroke="#111" stroke-width="1.2" />
<line x1="823.2" y1="92.6" x2="828.8" y2="92.6" stroke="#111" stroke-width="1.2" />
<line x1="823.2" y1="96.6" x2="828.8" y2="96.6" stroke="#111" stroke-width="1.2" />
<line x1="826.0" y1="252.9" x2="826.0" y2="257.4" stroke="#111" stroke-width="1.3" />
<text x="826.0" y="272.8" font-size="14.9" text-anchor="middle" fill="#111"  stroke="#111" stroke-width="0.3">5/1</text>
<rect x="859.3" y="94.3" width="45.2" height="158.6" fill="url(#barp)" stroke="#555" stroke-width="0.7"/>
<line x1="881.9" y1="92.0" x2="881.9" y2="96.6" stroke="#111" stroke-width="1.2" />
<line x1="879.1" y1="92.0" x2="884.7" y2="92.0" stroke="#111" stroke-width="1.2" />
<line x1="879.1" y1="96.6" x2="884.7" y2="96.6" stroke="#111" stroke-width="1.2" />
<line x1="881.9" y1="252.9" x2="881.9" y2="257.4" stroke="#111" stroke-width="1.3" />
<text x="881.9" y="272.8" font-size="14.9" text-anchor="middle" fill="#111"  stroke="#111" stroke-width="0.3">5/2</text>
<rect x="914.8" y="136.0" width="45.2" height="116.9" fill="url(#baro)" stroke="#555" stroke-width="0.7"/>
<line x1="937.4" y1="130.6" x2="937.4" y2="141.4" stroke="#111" stroke-width="1.2" />
<line x1="934.6" y1="130.6" x2="940.2" y2="130.6" stroke="#111" stroke-width="1.2" />
<line x1="934.6" y1="141.4" x2="940.2" y2="141.4" stroke="#111" stroke-width="1.2" />
<line x1="937.4" y1="252.9" x2="937.4" y2="257.4" stroke="#111" stroke-width="1.3" />
<text x="937.4" y="272.8" font-size="14.9" text-anchor="middle" fill="#111"  stroke="#111" stroke-width="0.3">5/3</text>
<rect x="970.3" y="151.3" width="45.2" height="101.6" fill="url(#bart)" stroke="#555" stroke-width="0.7"/>
<line x1="992.9" y1="147.3" x2="992.9" y2="155.2" stroke="#111" stroke-width="1.2" />
<line x1="990.1" y1="147.3" x2="995.7" y2="147.3" stroke="#111" stroke-width="1.2" />
<line x1="990.1" y1="155.2" x2="995.7" y2="155.2" stroke="#111" stroke-width="1.2" />
<line x1="992.9" y1="252.9" x2="992.9" y2="257.4" stroke="#111" stroke-width="1.3" />
<text x="992.9" y="272.8" font-size="14.9" text-anchor="middle" fill="#111"  stroke="#111" stroke-width="0.3">5/4</text>
<line x1="742.2" y1="252.9" x2="737.7" y2="252.9" stroke="#111" stroke-width="1.3" />
<text x="735.2" y="257.5" font-size="14.9" text-anchor="end" fill="#111"  stroke="#111" stroke-width="0.3">0</text>
<line x1="742.2" y1="196.8" x2="737.7" y2="196.8" stroke="#111" stroke-width="1.3" />
<text x="735.2" y="201.4" font-size="14.9" text-anchor="end" fill="#111"  stroke="#111" stroke-width="0.3">20</text>
<line x1="742.2" y1="140.8" x2="737.7" y2="140.8" stroke="#111" stroke-width="1.3" />
<text x="735.2" y="145.4" font-size="14.9" text-anchor="end" fill="#111"  stroke="#111" stroke-width="0.3">40</text>
<line x1="742.2" y1="84.8" x2="737.7" y2="84.8" stroke="#111" stroke-width="1.3" />
<text x="735.2" y="89.3" font-size="14.9" text-anchor="end" fill="#111"  stroke="#111" stroke-width="0.3">60</text>
<line x1="742.2" y1="28.7" x2="737.7" y2="28.7" stroke="#111" stroke-width="1.3" />
<text x="735.2" y="33.3" font-size="14.9" text-anchor="end" fill="#111"  stroke="#111" stroke-width="0.3">80</text>
<line x1="742.2" y1="224.9" x2="739.7" y2="224.9" stroke="#111" stroke-width="1.2" />
<line x1="742.2" y1="168.8" x2="739.7" y2="168.8" stroke="#111" stroke-width="1.2" />
<line x1="742.2" y1="112.8" x2="739.7" y2="112.8" stroke="#111" stroke-width="1.2" />
<line x1="742.2" y1="56.7" x2="739.7" y2="56.7" stroke="#111" stroke-width="1.2" />
<line x1="1021.6" y1="252.9" x2="1026.1" y2="252.9" stroke="#111" stroke-width="1.3" />
<text x="1028.1" y="257.9" font-size="14.9" text-anchor="start" fill="#111"  stroke="#111" stroke-width="0.3">0</text>
<line x1="1021.6" y1="212.1" x2="1026.1" y2="212.1" stroke="#111" stroke-width="1.3" />
<text x="1028.1" y="217.1" font-size="14.9" text-anchor="start" fill="#111"  stroke="#111" stroke-width="0.3">20</text>
<line x1="1021.6" y1="171.2" x2="1026.1" y2="171.2" stroke="#111" stroke-width="1.3" />
<text x="1028.1" y="176.2" font-size="14.9" text-anchor="start" fill="#111"  stroke="#111" stroke-width="0.3">40</text>
<line x1="1021.6" y1="130.4" x2="1026.1" y2="130.4" stroke="#111" stroke-width="1.3" />
<text x="1028.1" y="135.4" font-size="14.9" text-anchor="start" fill="#111"  stroke="#111" stroke-width="0.3">60</text>
<line x1="1021.6" y1="89.5" x2="1026.1" y2="89.5" stroke="#111" stroke-width="1.3" />
<text x="1028.1" y="94.5" font-size="14.9" text-anchor="start" fill="#111"  stroke="#111" stroke-width="0.3">80</text>
<line x1="1021.6" y1="48.7" x2="1026.1" y2="48.7" stroke="#111" stroke-width="1.3" />
<text x="1028.1" y="53.7" font-size="14.9" text-anchor="start" fill="#111"  stroke="#111" stroke-width="0.3">100</text>
<line x1="1021.6" y1="232.5" x2="1024.1" y2="232.5" stroke="#111" stroke-width="1.2" />
<line x1="1021.6" y1="191.6" x2="1024.1" y2="191.6" stroke="#111" stroke-width="1.2" />
<line x1="1021.6" y1="150.8" x2="1024.1" y2="150.8" stroke="#111" stroke-width="1.2" />
<line x1="1021.6" y1="110.0" x2="1024.1" y2="110.0" stroke="#111" stroke-width="1.2" />
<line x1="1021.6" y1="69.1" x2="1024.1" y2="69.1" stroke="#111" stroke-width="1.2" />
<line x1="770.1" y1="48.9" x2="992.9" y2="48.9" stroke="#3fe63f" stroke-width="1.6" />
<polyline points="770.1,94.7 826.0,61.0 881.9,57.9 937.4,54.3 992.9,49.2" fill="none" stroke="#e02626" stroke-width="1.5"/>
<circle cx="770.1" cy="94.7" r="5.4" fill="url(#sred)"/>
<circle cx="826.0" cy="61.0" r="5.4" fill="url(#sred)"/>
<circle cx="881.9" cy="57.9" r="5.4" fill="url(#sred)"/>
<circle cx="937.4" cy="54.3" r="5.4" fill="url(#sred)"/>
<circle cx="992.9" cy="49.2" r="5.4" fill="url(#sred)"/>
<circle cx="770.1" cy="48.9" r="5.4" fill="url(#sgreen)"/>
<circle cx="826.0" cy="48.9" r="5.4" fill="url(#sgreen)"/>
<circle cx="881.9" cy="48.9" r="5.4" fill="url(#sgreen)"/>
<circle cx="937.4" cy="48.9" r="5.4" fill="url(#sgreen)"/>
<circle cx="992.9" cy="48.9" r="5.4" fill="url(#sgreen)"/>
<line x1="770.1" y1="88.0" x2="770.1" y2="91.0" stroke="#e02626" stroke-width="1.1" />
<line x1="767.5" y1="88.0" x2="772.7" y2="88.0" stroke="#e02626" stroke-width="1.1" />
<line x1="993.1" y1="45.0" x2="993.1" y2="54.0" stroke="#6b6a12" stroke-width="1.4" />
<line x1="989.9" y1="49.4" x2="996.3" y2="49.4" stroke="#4fa01e" stroke-width="1.0" />
<path d="M770.4 84 L770.4 72.8 L751 72.8" fill="none" stroke="#111" stroke-width="1.1"/>
<path d="M745.6 72.8 L752.2 70.4 L752.2 75.2 Z" fill="#111"/>
<text x="882.2" y="294.4" font-size="17" text-anchor="middle" fill="#111"  stroke="#111" stroke-width="0.3">Weight ratio of GO/PP</text>
<text transform="translate(708.3,140.5) rotate(-90)" font-size="17.3" text-anchor="middle" fill="#111" stroke="#111" stroke-width="0.3">Flux (L m<tspan dy="-6.6" font-size="11.8">−2</tspan><tspan dy="6.6" font-size="17.3"> h</tspan><tspan dy="-6.6" font-size="11.8">−1</tspan><tspan dy="6.6" font-size="17.3">)</tspan></text>
<text transform="translate(1066.0,141) rotate(-90)" font-size="17" text-anchor="middle" fill="#111" stroke="#111" stroke-width="0.3"><tspan fill="#35d935" stroke="#35d935">Salt</tspan>/<tspan fill="#e01f1f" stroke="#e01f1f">phenol</tspan> rejection efficiency (%)</text>
<rect x="742.2" y="28.7" width="279.4" height="224.2" fill="none" stroke="#111" stroke-width="1.6"/>
<rect x="72.8" y="365.8" width="45" height="169.9" fill="url(#barb)" stroke="#555" stroke-width="0.7"/>
<line x1="95.3" y1="355.8" x2="95.3" y2="376.3" stroke="#111" stroke-width="1.2" />
<line x1="92.5" y1="355.8" x2="98.1" y2="355.8" stroke="#111" stroke-width="1.2" />
<line x1="92.5" y1="376.3" x2="98.1" y2="376.3" stroke="#111" stroke-width="1.2" />
<line x1="95.3" y1="535.7" x2="95.3" y2="540.2" stroke="#111" stroke-width="1.3" />
<text x="95.3" y="554.8" font-size="14.9" text-anchor="middle" fill="#111"  stroke="#111" stroke-width="0.3">5/0</text>
<rect x="128.8" y="474.2" width="45" height="61.5" fill="url(#barg)" stroke="#555" stroke-width="0.7"/>
<line x1="151.3" y1="465.7" x2="151.3" y2="482.7" stroke="#111" stroke-width="1.2" />
<line x1="148.5" y1="465.7" x2="154.1" y2="465.7" stroke="#111" stroke-width="1.2" />
<line x1="148.5" y1="482.7" x2="154.1" y2="482.7" stroke="#111" stroke-width="1.2" />
<line x1="151.3" y1="535.7" x2="151.3" y2="540.2" stroke="#111" stroke-width="1.3" />
<text x="151.3" y="554.8" font-size="14.9" text-anchor="middle" fill="#111"  stroke="#111" stroke-width="0.3">5/1</text>
<rect x="184.1" y="475.8" width="45" height="59.9" fill="url(#barp)" stroke="#555" stroke-width="0.7"/>
<line x1="206.6" y1="470.0" x2="206.6" y2="482.2" stroke="#111" stroke-width="1.2" />
<line x1="203.8" y1="470.0" x2="209.4" y2="470.0" stroke="#111" stroke-width="1.2" />
<line x1="203.8" y1="482.2" x2="209.4" y2="482.2" stroke="#111" stroke-width="1.2" />
<line x1="206.6" y1="535.7" x2="206.6" y2="540.2" stroke="#111" stroke-width="1.3" />
<text x="206.6" y="554.8" font-size="14.9" text-anchor="middle" fill="#111"  stroke="#111" stroke-width="0.3">5/2</text>
<rect x="240.1" y="489.1" width="45" height="46.6" fill="url(#baro)" stroke="#555" stroke-width="0.7"/>
<line x1="262.6" y1="485.9" x2="262.6" y2="491.8" stroke="#111" stroke-width="1.2" />
<line x1="259.8" y1="485.9" x2="265.4" y2="485.9" stroke="#111" stroke-width="1.2" />
<line x1="259.8" y1="491.8" x2="265.4" y2="491.8" stroke="#111" stroke-width="1.2" />
<line x1="262.6" y1="535.7" x2="262.6" y2="540.2" stroke="#111" stroke-width="1.3" />
<text x="262.6" y="554.8" font-size="14.9" text-anchor="middle" fill="#111"  stroke="#111" stroke-width="0.3">5/3</text>
<rect x="295.5" y="505.4" width="45" height="30.3" fill="url(#bart)" stroke="#555" stroke-width="0.7"/>
<line x1="318.0" y1="501.1" x2="318.0" y2="509.4" stroke="#111" stroke-width="1.2" />
<line x1="315.2" y1="501.1" x2="320.8" y2="501.1" stroke="#111" stroke-width="1.2" />
<line x1="315.2" y1="509.4" x2="320.8" y2="509.4" stroke="#111" stroke-width="1.2" />
<line x1="318.0" y1="535.7" x2="318.0" y2="540.2" stroke="#111" stroke-width="1.3" />
<text x="318.0" y="554.8" font-size="14.9" text-anchor="middle" fill="#111"  stroke="#111" stroke-width="0.3">5/4</text>
<line x1="67.1" y1="535.7" x2="62.6" y2="535.7" stroke="#111" stroke-width="1.3" />
<text x="60.6" y="541.0" font-size="14.9" text-anchor="end" fill="#111"  stroke="#111" stroke-width="0.3">0.0</text>
<line x1="67.1" y1="505.1" x2="62.6" y2="505.1" stroke="#111" stroke-width="1.3" />
<text x="60.6" y="510.4" font-size="14.9" text-anchor="end" fill="#111"  stroke="#111" stroke-width="0.3">0.3</text>
<line x1="67.1" y1="474.5" x2="62.6" y2="474.5" stroke="#111" stroke-width="1.3" />
<text x="60.6" y="479.8" font-size="14.9" text-anchor="end" fill="#111"  stroke="#111" stroke-width="0.3">0.6</text>
<line x1="67.1" y1="443.9" x2="62.6" y2="443.9" stroke="#111" stroke-width="1.3" />
<text x="60.6" y="449.2" font-size="14.9" text-anchor="end" fill="#111"  stroke="#111" stroke-width="0.3">0.9</text>
<line x1="67.1" y1="413.3" x2="62.6" y2="413.3" stroke="#111" stroke-width="1.3" />
<text x="60.6" y="418.6" font-size="14.9" text-anchor="end" fill="#111"  stroke="#111" stroke-width="0.3">1.2</text>
<line x1="67.1" y1="382.7" x2="62.6" y2="382.7" stroke="#111" stroke-width="1.3" />
<text x="60.6" y="388.0" font-size="14.9" text-anchor="end" fill="#111"  stroke="#111" stroke-width="0.3">1.5</text>
<line x1="67.1" y1="352.1" x2="62.6" y2="352.1" stroke="#111" stroke-width="1.3" />
<text x="60.6" y="357.4" font-size="14.9" text-anchor="end" fill="#111"  stroke="#111" stroke-width="0.3">1.8</text>
<line x1="67.1" y1="321.5" x2="62.6" y2="321.5" stroke="#111" stroke-width="1.3" />
<text x="60.6" y="326.8" font-size="14.9" text-anchor="end" fill="#111"  stroke="#111" stroke-width="0.3">2.1</text>
<line x1="67.1" y1="525.5" x2="64.6" y2="525.5" stroke="#111" stroke-width="1.1" />
<line x1="67.1" y1="515.3" x2="64.6" y2="515.3" stroke="#111" stroke-width="1.1" />
<line x1="67.1" y1="494.9" x2="64.6" y2="494.9" stroke="#111" stroke-width="1.1" />
<line x1="67.1" y1="484.7" x2="64.6" y2="484.7" stroke="#111" stroke-width="1.1" />
<line x1="67.1" y1="464.3" x2="64.6" y2="464.3" stroke="#111" stroke-width="1.1" />
<line x1="67.1" y1="454.1" x2="64.6" y2="454.1" stroke="#111" stroke-width="1.1" />
<line x1="67.1" y1="433.7" x2="64.6" y2="433.7" stroke="#111" stroke-width="1.1" />
<line x1="67.1" y1="423.5" x2="64.6" y2="423.5" stroke="#111" stroke-width="1.1" />
<line x1="67.1" y1="403.1" x2="64.6" y2="403.1" stroke="#111" stroke-width="1.1" />
<line x1="67.1" y1="392.9" x2="64.6" y2="392.9" stroke="#111" stroke-width="1.1" />
<line x1="67.1" y1="372.5" x2="64.6" y2="372.5" stroke="#111" stroke-width="1.1" />
<line x1="67.1" y1="362.3" x2="64.6" y2="362.3" stroke="#111" stroke-width="1.1" />
<line x1="67.1" y1="341.9" x2="64.6" y2="341.9" stroke="#111" stroke-width="1.1" />
<line x1="67.1" y1="331.7" x2="64.6" y2="331.7" stroke="#111" stroke-width="1.1" />
<text x="206.6" y="577.0" font-size="17" text-anchor="middle" fill="#111"  stroke="#111" stroke-width="0.3">Weight ratio of GO/PP</text>
<text transform="translate(31.5,423.0) rotate(-90)" font-size="17" text-anchor="middle" fill="#111" stroke="#111" stroke-width="0.3">Permeance (L m<tspan dy="-6.5" font-size="11.6">−2</tspan><tspan dy="6.5" font-size="17"> h</tspan><tspan dy="-6.5" font-size="11.6">−1</tspan><tspan dy="6.5" font-size="17"> bar</tspan><tspan dy="-6.5" font-size="11.6">−1</tspan><tspan dy="6.5" font-size="17">)</tspan></text>
<rect x="67.1" y="311.2" width="279.6" height="224.5" fill="none" stroke="#111" stroke-width="1.6"/>
<rect x="405.4" y="513" width="227.2" height="45.6" fill="url(#gblueBot)"/>
<rect x="405.4" y="341.2" width="227.2" height="47" fill="url(#gred)"/>
<rect x="405.4" y="392" width="227.2" height="62" fill="#fff"/>
<path d="M405.4 386.1 L411.4 385.6 L417.4 385.4 L423.4 385.3 L429.4 385.5 L435.4 385.9 L441.4 386.4 L447.4 386.9 L453.4 387.2 L459.4 387.3 L465.4 387.1 L471.4 386.8 L477.4 386.3 L483.4 385.8 L483.4 399.8 L477.4 400.2 L471.4 400.6 L465.4 401.0 L459.4 401.3 L453.4 401.5 L447.4 401.6 L441.4 401.5 L435.4 401.2 L429.4 400.8 L423.4 400.4 L417.4 400.0 L411.4 399.7 L405.4 399.6Z" fill="#ad894e"/>
<path d="M496.8 385.7 L503.0 386.2 L509.2 386.7 L515.4 387.1 L521.5 387.3 L527.7 387.2 L533.9 386.9 L540.1 386.4 L546.3 385.9 L552.5 385.5 L558.6 385.3 L564.8 385.4 L571.0 385.7 L571.0 399.6 L564.8 399.7 L558.6 400.0 L552.5 400.4 L546.3 400.8 L540.1 401.2 L533.9 401.5 L527.7 401.6 L521.5 401.5 L515.4 401.3 L509.2 400.9 L503.0 400.5 L496.8 400.1Z" fill="#ad894e"/>
<path d="M589.0 387.3 L595.2 387.0 L601.5 386.6 L607.7 386.1 L613.9 385.6 L620.1 385.3 L626.4 385.3 L632.6 385.6 L632.6 400.2 L626.4 400.6 L620.1 401.0 L613.9 401.4 L607.7 401.6 L601.5 401.6 L595.2 401.4 L589.0 401.1Z" fill="#ad894e"/>
<rect x="483.4" y="388.3" width="13.4" height="12" fill="#fff"/>
<rect x="571.0" y="388.3" width="18.0" height="12" fill="#fff"/>
<path d="M410.0 409.0 L416.9 408.8 L423.7 408.9 L430.6 409.1 L437.5 409.6 L444.3 410.0 L451.2 410.3 L451.2 425.5 L444.3 425.6 L437.5 425.5 L430.6 425.2 L423.7 424.8 L416.9 424.5 L410.0 424.2Z" fill="#ad894e"/>
<path d="M462.8 409.4 L469.0 409.1 L475.1 408.8 L481.3 408.8 L487.5 409.0 L493.6 409.3 L499.8 409.8 L506.0 410.1 L512.1 410.4 L518.3 410.4 L524.5 410.2 L530.6 409.9 L536.8 409.4 L536.8 425.0 L530.6 425.3 L524.5 425.5 L518.3 425.6 L512.1 425.5 L506.0 425.3 L499.8 425.0 L493.6 424.7 L487.5 424.4 L481.3 424.1 L475.1 424.0 L469.0 424.0 L462.8 424.2Z" fill="#ad894e"/>
<path d="M555.7 409.5 L561.8 409.9 L568.0 410.2 L574.1 410.4 L580.3 410.3 L586.4 410.1 L592.5 409.7 L598.7 409.3 L604.8 409.0 L611.0 408.8 L617.1 408.9 L623.3 409.1 L629.4 409.5 L629.4 424.1 L623.3 424.3 L617.1 424.6 L611.0 424.9 L604.8 425.2 L598.7 425.5 L592.5 425.6 L586.4 425.6 L580.3 425.4 L574.1 425.1 L568.0 424.8 L561.8 424.4 L555.7 424.2Z" fill="#ad894e"/>
<path d="M409.6 436.9 L415.7 436.8 L421.9 437.0 L428.0 437.3 L434.2 437.7 L440.3 438.1 L446.5 438.3 L452.6 438.4 L458.7 438.2 L464.9 437.9 L471.0 437.5 L477.2 437.1 L483.3 436.9 L483.3 450.6 L477.2 450.7 L471.0 450.9 L464.9 451.3 L458.7 451.6 L452.6 451.9 L446.5 452.1 L440.3 452.2 L434.2 452.1 L428.0 451.9 L421.9 451.6 L415.7 451.3 L409.6 451.0Z" fill="#ad894e"/>
<path d="M496.7 437.9 L502.9 438.3 L509.1 438.4 L515.3 438.3 L521.5 438.1 L527.7 437.7 L533.9 437.2 L540.0 436.9 L546.2 436.8 L552.4 436.9 L558.6 437.2 L564.8 437.6 L571.0 438.0 L571.0 451.0 L564.8 450.8 L558.6 450.6 L552.4 450.6 L546.2 450.8 L540.0 451.0 L533.9 451.4 L527.7 451.7 L521.5 452.0 L515.3 452.2 L509.1 452.2 L502.9 452.1 L496.7 451.8Z" fill="#ad894e"/>
<path d="M589.0 437.6 L595.8 438.0 L602.5 438.3 L609.3 438.4 L616.1 438.2 L622.8 437.8 L629.6 437.4 L629.6 452.2 L622.8 452.1 L616.1 451.9 L609.3 451.5 L602.5 451.2 L595.8 450.8 L589.0 450.6Z" fill="#ad894e"/>
<path d="M409.8 451.3 C413.4 449.1 422.3 451.6 428.7 451.9 C435.1 452.1 445.6 451.8 448.1 452.7 C450.7 453.6 445.0 455.6 444.0 457.4 C443.1 459.2 442.3 461.3 442.6 463.6 C442.9 465.8 444.3 468.7 446.1 470.7 C447.9 472.8 451.0 474.5 453.2 475.8 C455.5 477.2 458.5 477.2 459.4 478.9 C460.2 480.6 459.0 483.3 458.4 486.1 C457.7 488.8 456.2 492.4 455.3 495.3 C454.4 498.2 453.1 500.8 452.8 503.5 C452.6 506.2 453.7 509.4 453.7 511.7 C453.7 514.0 455.0 515.5 452.8 517.4 C450.7 519.3 445.7 521.3 441.0 522.9 C436.2 524.5 429.0 526.7 424.6 527.0 C420.1 527.4 417.2 526.5 414.3 525.0 C411.4 523.5 408.8 521.7 407.2 517.8 C405.5 513.9 404.8 507.6 404.5 501.4 C404.2 495.3 404.7 487.1 405.1 481.0 C405.6 474.8 406.4 469.5 407.2 464.6 C408.0 459.6 406.2 453.4 409.8 451.3Z" fill="#cfcfd0" stroke="#222" stroke-width="1.25"/>
<path d="M497.5 451.5 C494.8 452.4 494.4 453.7 494.2 455.6 C494.0 457.4 495.2 460.0 496.3 462.5 C497.3 465.1 500.1 468.4 500.3 470.7 C500.6 473.0 499.6 474.9 497.9 476.5 C496.2 478.0 491.7 478.7 490.1 479.9 C488.5 481.2 488.0 482.0 488.5 484.0 C489.0 486.1 491.6 489.3 493.2 492.2 C494.8 495.1 497.1 498.7 497.9 501.4 C498.7 504.2 498.5 506.6 497.9 508.6 C497.3 510.7 494.8 512.0 494.2 513.7 C493.7 515.4 493.2 517.5 494.6 518.8 C496.0 520.2 499.0 520.8 502.4 521.9 C505.8 523.0 510.7 524.7 514.9 525.6 C519.0 526.5 523.3 527.1 527.3 527.0 C531.2 526.9 535.6 526.2 538.6 525.0 C541.5 523.8 543.2 522.1 544.7 519.9 C546.2 517.7 546.8 514.7 547.4 511.7 C547.9 508.6 547.1 504.9 547.8 501.4 C548.4 498.0 549.9 494.4 551.5 491.2 C553.0 488.0 556.7 484.7 557.0 482.0 C557.2 479.3 554.5 476.9 552.9 474.8 C551.3 472.8 548.0 471.6 547.4 469.7 C546.7 467.8 548.0 465.4 548.8 463.6 C549.5 461.7 551.9 460.1 551.9 458.4 C551.9 456.7 549.5 454.5 548.8 453.3 C548.1 452.1 551.4 451.7 547.8 451.3 C544.2 450.8 533.5 450.8 527.3 450.6 C521.1 450.5 515.6 450.1 510.6 450.2 C505.6 450.4 500.2 450.6 497.5 451.5Z" fill="#cfcfd0" stroke="#222" stroke-width="1.25"/>
<path d="M590.0 450.6 C587.2 451.4 591.7 452.8 592.4 454.7 C593.2 456.7 594.6 459.9 594.5 462.5 C594.4 465.2 593.4 468.4 591.8 470.7 C590.2 473.0 587.0 475.1 584.6 476.5 C582.2 477.8 578.8 477.6 577.5 478.9 C576.1 480.2 576.0 481.6 576.4 484.0 C576.9 486.4 578.8 490.3 580.1 493.2 C581.5 496.1 583.7 499.0 584.6 501.4 C585.6 503.8 585.9 505.5 585.7 507.6 C585.4 509.6 583.3 511.8 583.0 513.7 C582.6 515.6 582.0 517.3 583.6 518.8 C585.2 520.4 588.9 521.6 592.8 522.9 C596.7 524.3 602.7 526.4 607.2 527.0 C611.6 527.7 616.0 527.9 619.4 527.0 C622.9 526.2 625.6 524.8 627.6 521.9 C629.7 519.0 630.9 514.7 631.7 509.6 C632.6 504.5 632.8 497.7 632.8 491.2 C632.8 484.7 632.2 477.2 631.7 470.7 C631.2 464.2 633.4 455.7 629.7 452.3 C625.9 448.9 615.8 450.5 609.2 450.2 C602.6 450.0 592.8 449.9 590.0 450.6Z" fill="#cfcfd0" stroke="#222" stroke-width="1.25"/>
<path d="M409.6 436.9 L415.7 436.8 L421.9 437.0 L428.0 437.3 L434.2 437.7 L440.3 438.1 L446.5 438.3 L452.6 438.4 L458.7 438.2 L464.9 437.9 L471.0 437.5 L477.2 437.1 L483.3 436.9 L483.3 450.6 L477.2 450.7 L471.0 450.9 L464.9 451.3 L458.7 451.6 L452.6 451.9 L446.5 452.1 L440.3 452.2 L434.2 452.1 L428.0 451.9 L421.9 451.6 L415.7 451.3 L409.6 451.0Z" fill="#ad894e"/>
<path d="M496.7 437.9 L502.9 438.3 L509.1 438.4 L515.3 438.3 L521.5 438.1 L527.7 437.7 L533.9 437.2 L540.0 436.9 L546.2 436.8 L552.4 436.9 L558.6 437.2 L564.8 437.6 L571.0 438.0 L571.0 451.0 L564.8 450.8 L558.6 450.6 L552.4 450.6 L546.2 450.8 L540.0 451.0 L533.9 451.4 L527.7 451.7 L521.5 452.0 L515.3 452.2 L509.1 452.2 L502.9 452.1 L496.7 451.8Z" fill="#ad894e"/>
<path d="M589.0 437.6 L595.8 438.0 L602.5 438.3 L609.3 438.4 L616.1 438.2 L622.8 437.8 L629.6 437.4 L629.6 452.2 L622.8 452.1 L616.1 451.9 L609.3 451.5 L602.5 451.2 L595.8 450.8 L589.0 450.6Z" fill="#ad894e"/>
<path d="M413.7 400.5 C414.3 401.3 416.2 403.9 417.7 405.3 C419.3 406.6 420.9 408.2 423.2 408.7 C425.5 409.1 428.9 408.8 431.4 408.0 C433.9 407.2 435.9 405.0 438.2 403.9 C440.5 402.8 442.3 401.5 445.1 401.2 C447.8 400.8 451.4 401.2 454.6 401.8 C457.8 402.5 461.4 404.3 464.2 405.3 C466.9 406.2 468.3 407.0 471.0 407.3 C473.7 407.6 477.4 407.9 480.5 407.3 C483.7 406.7 486.9 405.0 490.1 403.9 C493.3 402.8 496.5 401.0 499.7 400.5 C502.8 399.9 506.7 399.3 509.2 400.5 C511.8 401.6 513.1 405.5 515.0 407.3 C516.9 409.1 518.6 410.5 520.5 411.4 C522.3 412.3 523.9 412.9 525.9 412.8 C528.0 412.7 530.5 412.0 532.7 410.7 C535.0 409.5 537.3 406.6 539.6 405.3 C541.8 403.9 543.7 402.8 546.4 402.5 C549.1 402.3 552.8 403.1 556.0 403.9 C559.1 404.7 562.3 406.4 565.5 407.3 C568.7 408.2 571.7 409.0 575.1 409.4 C578.5 409.7 582.3 409.8 586.0 409.4 C589.6 408.9 594.2 407.4 596.9 406.6 C599.6 405.8 600.1 404.8 602.4 404.6 C604.6 404.3 608.1 404.0 610.6 405.3 C613.1 406.5 616.3 410.9 617.4 412.1" fill="none" stroke="#6ca045" stroke-width="2.2" stroke-linecap="round" stroke-linejoin="round"/>
<path d="M408.9 410.0 C409.9 409.4 413.1 407.5 415.0 405.9 C417.0 404.3 418.8 401.8 420.5 400.5 C422.2 399.1 423.7 397.7 425.3 397.7 C426.8 397.7 428.3 398.8 430.0 400.5 C431.7 402.2 433.4 405.9 435.5 408.0 C437.5 410.0 439.8 412.3 442.3 412.8 C444.8 413.2 447.8 412.0 450.5 410.7 C453.2 409.5 455.7 406.6 458.7 405.3 C461.7 403.9 465.3 402.9 468.3 402.5 C471.2 402.2 473.7 402.5 476.5 403.2 C479.2 403.9 481.5 405.4 484.6 406.6 C487.8 407.9 492.6 409.9 495.6 410.7 C498.5 411.5 499.7 411.9 502.4 411.4 C505.1 410.9 509.8 409.0 511.9 408.0 C514.0 407.0 513.1 405.9 515.0 405.3 C516.9 404.6 520.5 403.7 523.2 403.9 C525.9 404.1 528.4 405.7 531.4 406.6 C534.3 407.5 537.8 408.9 540.9 409.4 C544.1 409.8 546.9 409.8 550.5 409.4 C554.1 408.9 558.7 407.4 562.8 406.6 C566.9 405.8 571.2 405.1 575.1 404.6 C578.9 404.1 583.0 403.1 586.0 403.5 C588.9 403.8 591.0 405.3 592.8 406.6 C594.6 407.9 595.4 410.5 596.9 411.4 C598.4 412.3 600.4 413.0 601.7 412.1 C602.9 411.2 603.4 407.9 604.4 405.9 C605.4 404.0 606.4 401.2 607.8 400.5 C609.3 399.8 611.5 400.8 613.3 401.8 C615.1 402.9 617.0 404.9 618.8 406.6 C620.5 408.3 622.7 411.2 623.5 412.1" fill="none" stroke="#5c2b93" stroke-width="2.6" stroke-linecap="round" stroke-linejoin="round"/>
<path d="M417.7 424.4 C418.4 425.3 420.0 428.1 421.8 429.8 C423.7 431.5 426.6 433.9 428.7 434.6 C430.7 435.3 432.1 435.1 434.1 433.9 C436.2 432.8 438.9 429.1 441.0 427.8 C443.0 426.4 444.6 425.8 446.4 425.7 C448.2 425.6 450.1 426.0 451.9 427.1 C453.7 428.2 455.3 430.9 457.3 432.6 C459.4 434.3 461.7 436.3 464.2 437.3 C466.7 438.4 469.4 438.8 472.4 438.7 C475.3 438.6 479.0 437.7 481.9 436.7 C484.9 435.6 487.4 434.0 490.1 432.6 C492.8 431.1 495.6 428.8 498.3 427.8 C501.0 426.8 504.0 426.5 506.5 426.4 C509.0 426.4 511.9 427.4 513.3 427.5 C514.7 427.6 513.8 426.5 515.0 427.1 C516.2 427.7 518.4 429.8 520.5 431.2 C522.5 432.6 524.8 434.3 527.3 435.3 C529.8 436.3 532.7 437.5 535.5 437.3 C538.2 437.2 540.7 435.9 543.7 434.6 C546.6 433.4 550.3 431.3 553.2 429.8 C556.2 428.4 558.7 426.7 561.4 425.7 C564.1 424.8 567.1 424.0 569.6 424.0 C572.1 424.0 573.7 424.8 576.4 425.7 C579.2 426.7 582.8 428.5 586.0 429.8 C589.2 431.2 592.4 432.9 595.5 433.9 C598.7 434.9 602.1 436.0 605.1 436.0 C608.1 436.0 610.6 435.1 613.3 433.9 C616.0 432.8 619.0 430.5 621.5 429.1 C624.0 427.8 627.2 426.3 628.3 425.7" fill="none" stroke="#6ca045" stroke-width="2.2" stroke-linecap="round" stroke-linejoin="round"/>
<path d="M413.7 436.7 C414.8 435.3 418.2 430.6 420.5 428.5 C422.8 426.3 425.3 424.0 427.3 423.7 C429.4 423.3 430.9 424.7 432.8 426.4 C434.6 428.1 436.2 432.0 438.2 433.9 C440.3 435.9 442.5 437.7 445.1 438.0 C447.6 438.4 450.7 437.3 453.2 436.0 C455.7 434.6 457.6 431.8 460.1 429.8 C462.6 427.9 465.8 425.5 468.3 424.4 C470.8 423.2 472.8 422.9 475.1 423.0 C477.4 423.1 479.4 423.8 481.9 425.1 C484.4 426.3 487.4 428.8 490.1 430.5 C492.8 432.2 495.8 434.3 498.3 435.3 C500.8 436.3 502.6 436.9 505.1 436.7 C507.6 436.4 511.7 434.7 513.3 433.9 C515.0 433.1 513.8 432.9 515.0 431.9 C516.2 430.9 518.4 428.8 520.5 427.8 C522.5 426.8 525.2 425.7 527.3 425.7 C529.3 425.7 530.9 426.5 532.7 427.8 C534.6 429.0 536.4 431.5 538.2 433.2 C540.0 434.9 541.6 436.9 543.7 438.0 C545.7 439.2 547.8 440.1 550.5 440.1 C553.2 440.1 556.9 439.0 560.1 438.0 C563.2 437.0 566.4 435.4 569.6 433.9 C572.8 432.4 576.2 430.5 579.2 429.1 C582.1 427.8 585.0 426.5 587.4 425.7 C589.7 425.0 591.7 424.3 593.1 424.8 C594.5 425.3 595.0 427.2 595.5 428.9 C596.1 430.6 595.7 433.8 596.4 434.9 C597.0 435.9 598.2 436.0 599.6 435.3 C601.1 434.6 603.1 432.1 605.1 430.5 C607.2 428.9 609.7 426.0 611.9 425.7 C614.2 425.5 616.5 427.7 618.8 429.1 C621.0 430.6 624.4 433.7 625.6 434.6" fill="none" stroke="#5c2b93" stroke-width="2.6" stroke-linecap="round" stroke-linejoin="round"/>
<rect x="642.4" y="513" width="227.2" height="45.6" fill="url(#gblueBot)"/>
<rect x="642.4" y="341.2" width="227.2" height="51" fill="url(#gblueTop)"/>
<rect x="642.4" y="392" width="227.2" height="62" fill="#fff"/>
<path d="M642.4 385.3 L648.4 385.4 L654.4 385.7 L660.4 386.2 L666.4 386.7 L672.4 387.1 L678.4 387.3 L684.4 387.2 L690.4 386.9 L696.4 386.5 L702.4 386.0 L708.4 385.6 L714.4 385.3 L720.4 385.3 L720.4 401.6 L714.4 401.6 L708.4 401.4 L702.4 401.1 L696.4 400.7 L690.4 400.3 L684.4 399.9 L678.4 399.7 L672.4 399.6 L666.4 399.7 L660.4 400.0 L654.4 400.3 L648.4 400.7 L642.4 401.1Z" fill="#ad894e"/>
<path d="M733.8 386.9 L740.0 387.2 L746.2 387.3 L752.3 387.1 L758.5 386.7 L764.7 386.2 L770.9 385.7 L777.1 385.4 L783.3 385.3 L789.5 385.5 L795.6 385.9 L801.8 386.4 L808.0 386.9 L808.0 401.3 L801.8 401.5 L795.6 401.6 L789.5 401.5 L783.3 401.2 L777.1 400.8 L770.9 400.4 L764.7 400.0 L758.5 399.7 L752.3 399.6 L746.2 399.7 L740.0 399.9 L733.8 400.2Z" fill="#ad894e"/>
<path d="M826.0 386.3 L832.2 385.8 L838.5 385.5 L844.7 385.3 L850.9 385.4 L857.1 385.8 L863.4 386.3 L869.6 386.8 L869.6 401.6 L863.4 401.4 L857.1 401.1 L850.9 400.6 L844.7 400.2 L838.5 399.9 L832.2 399.6 L826.0 399.6Z" fill="#ad894e"/>
<rect x="720.4" y="391.0" width="13.4" height="12" fill="#fff"/>
<rect x="808.0" y="391.0" width="18.0" height="12" fill="#fff"/>
<path d="M647.0 408.9 L653.9 409.2 L660.7 409.7 L667.6 410.1 L674.5 410.4 L681.3 410.4 L688.2 410.1 L688.2 424.6 L681.3 424.2 L674.5 424.0 L667.6 424.0 L660.7 424.2 L653.9 424.5 L647.0 424.8Z" fill="#ad894e"/>
<path d="M699.8 408.8 L706.0 408.9 L712.1 409.1 L718.3 409.5 L724.5 409.9 L730.6 410.3 L736.8 410.4 L743.0 410.3 L749.1 410.0 L755.3 409.7 L761.5 409.3 L767.6 408.9 L773.8 408.8 L773.8 425.3 L767.6 424.9 L761.5 424.6 L755.3 424.3 L749.1 424.1 L743.0 424.0 L736.8 424.1 L730.6 424.3 L724.5 424.6 L718.3 424.9 L712.1 425.2 L706.0 425.5 L699.8 425.6Z" fill="#ad894e"/>
<path d="M792.7 410.3 L798.8 410.4 L805.0 410.2 L811.1 409.9 L817.3 409.5 L823.4 409.1 L829.5 408.9 L835.7 408.8 L841.8 409.0 L848.0 409.3 L854.1 409.7 L860.3 410.1 L866.4 410.3 L866.4 425.5 L860.3 425.6 L854.1 425.5 L848.0 425.3 L841.8 425.0 L835.7 424.7 L829.5 424.4 L823.4 424.1 L817.3 424.0 L811.1 424.0 L805.0 424.2 L798.8 424.5 L792.7 424.8Z" fill="#ad894e"/>
<path d="M646.6 437.1 L652.7 437.5 L658.9 437.9 L665.0 438.2 L671.2 438.4 L677.3 438.4 L683.5 438.1 L689.6 437.7 L695.7 437.3 L701.9 437.0 L708.0 436.8 L714.2 436.8 L720.3 437.1 L720.3 452.0 L714.2 452.2 L708.0 452.2 L701.9 452.1 L695.7 451.9 L689.6 451.6 L683.5 451.2 L677.3 450.9 L671.2 450.7 L665.0 450.6 L658.9 450.7 L652.7 450.8 L646.6 451.1Z" fill="#ad894e"/>
<path d="M733.7 438.4 L739.9 438.2 L746.1 437.9 L752.3 437.5 L758.5 437.1 L764.7 436.8 L770.9 436.8 L777.0 437.0 L783.2 437.3 L789.4 437.7 L795.6 438.1 L801.8 438.4 L808.0 438.4 L808.0 451.1 L801.8 451.5 L795.6 451.8 L789.4 452.0 L783.2 452.2 L777.0 452.2 L770.9 452.0 L764.7 451.8 L758.5 451.4 L752.3 451.1 L746.1 450.8 L739.9 450.6 L733.7 450.6Z" fill="#ad894e"/>
<path d="M826.0 438.4 L832.8 438.4 L839.5 438.1 L846.3 437.7 L853.1 437.2 L859.8 436.9 L866.6 436.8 L866.6 450.9 L859.8 450.7 L853.1 450.6 L846.3 450.7 L839.5 451.0 L832.8 451.3 L826.0 451.7Z" fill="#ad894e"/>
<path d="M646.8 451.3 C650.4 449.1 659.3 451.6 665.7 451.9 C672.1 452.1 682.6 451.8 685.1 452.7 C687.7 453.6 682.0 455.6 681.0 457.4 C680.1 459.2 679.3 461.3 679.6 463.6 C679.9 465.8 681.3 468.7 683.1 470.7 C684.9 472.8 688.0 474.5 690.2 475.8 C692.5 477.2 695.5 477.2 696.4 478.9 C697.2 480.6 696.0 483.3 695.4 486.1 C694.7 488.8 693.2 492.4 692.3 495.3 C691.4 498.2 690.1 500.8 689.8 503.5 C689.6 506.2 690.7 509.4 690.7 511.7 C690.7 514.0 692.0 515.5 689.8 517.4 C687.7 519.3 682.7 521.3 678.0 522.9 C673.2 524.5 666.0 526.7 661.6 527.0 C657.1 527.4 654.2 526.5 651.3 525.0 C648.4 523.5 645.8 521.7 644.2 517.8 C642.5 513.9 641.8 507.6 641.5 501.4 C641.2 495.3 641.7 487.1 642.1 481.0 C642.6 474.8 643.4 469.5 644.2 464.6 C645.0 459.6 643.2 453.4 646.8 451.3Z" fill="#cfcfd0" stroke="#222" stroke-width="1.25"/>
<path d="M734.5 451.5 C731.8 452.4 731.4 453.7 731.2 455.6 C731.0 457.4 732.2 460.0 733.3 462.5 C734.3 465.1 737.1 468.4 737.3 470.7 C737.6 473.0 736.6 474.9 734.9 476.5 C733.2 478.0 728.7 478.7 727.1 479.9 C725.5 481.2 725.0 482.0 725.5 484.0 C726.0 486.1 728.6 489.3 730.2 492.2 C731.8 495.1 734.1 498.7 734.9 501.4 C735.7 504.2 735.5 506.6 734.9 508.6 C734.3 510.7 731.8 512.0 731.2 513.7 C730.7 515.4 730.2 517.5 731.6 518.8 C733.0 520.2 736.0 520.8 739.4 521.9 C742.8 523.0 747.7 524.7 751.9 525.6 C756.0 526.5 760.3 527.1 764.3 527.0 C768.2 526.9 772.6 526.2 775.6 525.0 C778.5 523.8 780.2 522.1 781.7 519.9 C783.2 517.7 783.8 514.7 784.4 511.7 C784.9 508.6 784.1 504.9 784.8 501.4 C785.4 498.0 786.9 494.4 788.5 491.2 C790.0 488.0 793.7 484.7 794.0 482.0 C794.2 479.3 791.5 476.9 789.9 474.8 C788.3 472.8 785.0 471.6 784.4 469.7 C783.7 467.8 785.0 465.4 785.8 463.6 C786.5 461.7 788.9 460.1 788.9 458.4 C788.9 456.7 786.5 454.5 785.8 453.3 C785.1 452.1 788.4 451.7 784.8 451.3 C781.2 450.8 770.5 450.8 764.3 450.6 C758.1 450.5 752.6 450.1 747.6 450.2 C742.6 450.4 737.2 450.6 734.5 451.5Z" fill="#cfcfd0" stroke="#222" stroke-width="1.25"/>
<path d="M827.0 450.6 C824.2 451.4 828.7 452.8 829.4 454.7 C830.2 456.7 831.6 459.9 831.5 462.5 C831.4 465.2 830.4 468.4 828.8 470.7 C827.2 473.0 824.0 475.1 821.6 476.5 C819.2 477.8 815.8 477.6 814.5 478.9 C813.1 480.2 813.0 481.6 813.4 484.0 C813.9 486.4 815.8 490.3 817.1 493.2 C818.5 496.1 820.7 499.0 821.6 501.4 C822.6 503.8 822.9 505.5 822.7 507.6 C822.4 509.6 820.3 511.8 820.0 513.7 C819.6 515.6 819.0 517.3 820.6 518.8 C822.2 520.4 825.9 521.6 829.8 522.9 C833.7 524.3 839.7 526.4 844.2 527.0 C848.6 527.7 853.0 527.9 856.4 527.0 C859.9 526.2 862.6 524.8 864.6 521.9 C866.7 519.0 867.9 514.7 868.7 509.6 C869.6 504.5 869.8 497.7 869.8 491.2 C869.8 484.7 869.2 477.2 868.7 470.7 C868.2 464.2 870.4 455.7 866.7 452.3 C862.9 448.9 852.8 450.5 846.2 450.2 C839.6 450.0 829.8 449.9 827.0 450.6Z" fill="#cfcfd0" stroke="#222" stroke-width="1.25"/>
<path d="M646.6 437.1 L652.7 437.5 L658.9 437.9 L665.0 438.2 L671.2 438.4 L677.3 438.4 L683.5 438.1 L689.6 437.7 L695.7 437.3 L701.9 437.0 L708.0 436.8 L714.2 436.8 L720.3 437.1 L720.3 452.0 L714.2 452.2 L708.0 452.2 L701.9 452.1 L695.7 451.9 L689.6 451.6 L683.5 451.2 L677.3 450.9 L671.2 450.7 L665.0 450.6 L658.9 450.7 L652.7 450.8 L646.6 451.1Z" fill="#ad894e"/>
<path d="M733.7 438.4 L739.9 438.2 L746.1 437.9 L752.3 437.5 L758.5 437.1 L764.7 436.8 L770.9 436.8 L777.0 437.0 L783.2 437.3 L789.4 437.7 L795.6 438.1 L801.8 438.4 L808.0 438.4 L808.0 451.1 L801.8 451.5 L795.6 451.8 L789.4 452.0 L783.2 452.2 L777.0 452.2 L770.9 452.0 L764.7 451.8 L758.5 451.4 L752.3 451.1 L746.1 450.8 L739.9 450.6 L733.7 450.6Z" fill="#ad894e"/>
<path d="M826.0 438.4 L832.8 438.4 L839.5 438.1 L846.3 437.7 L853.1 437.2 L859.8 436.9 L866.6 436.8 L866.6 450.9 L859.8 450.7 L853.1 450.6 L846.3 450.7 L839.5 451.0 L832.8 451.3 L826.0 451.7Z" fill="#ad894e"/>
<path d="M650.7 400.5 C651.3 401.3 653.2 403.9 654.7 405.3 C656.3 406.6 657.9 408.2 660.2 408.7 C662.5 409.1 665.9 408.8 668.4 408.0 C670.9 407.2 672.9 405.0 675.2 403.9 C677.5 402.8 679.3 401.5 682.1 401.2 C684.8 400.8 688.4 401.2 691.6 401.8 C694.8 402.5 698.4 404.3 701.2 405.3 C703.9 406.2 705.3 407.0 708.0 407.3 C710.7 407.6 714.4 407.9 717.5 407.3 C720.7 406.7 723.9 405.0 727.1 403.9 C730.3 402.8 733.5 401.0 736.7 400.5 C739.8 399.9 743.7 399.3 746.2 400.5 C748.8 401.6 750.1 405.5 752.0 407.3 C753.9 409.1 755.6 410.5 757.5 411.4 C759.3 412.3 760.9 412.9 762.9 412.8 C765.0 412.7 767.5 412.0 769.7 410.7 C772.0 409.5 774.3 406.6 776.6 405.3 C778.8 403.9 780.7 402.8 783.4 402.5 C786.1 402.3 789.8 403.1 793.0 403.9 C796.1 404.7 799.3 406.4 802.5 407.3 C805.7 408.2 808.7 409.0 812.1 409.4 C815.5 409.7 819.3 409.8 823.0 409.4 C826.6 408.9 831.2 407.4 833.9 406.6 C836.6 405.8 837.1 404.8 839.4 404.6 C841.6 404.3 845.1 404.0 847.6 405.3 C850.1 406.5 853.3 410.9 854.4 412.1" fill="none" stroke="#6ca045" stroke-width="2.2" stroke-linecap="round" stroke-linejoin="round"/>
<path d="M645.9 410.0 C646.9 409.4 650.1 407.5 652.0 405.9 C654.0 404.3 655.8 401.8 657.5 400.5 C659.2 399.1 660.7 397.7 662.3 397.7 C663.8 397.7 665.3 398.8 667.0 400.5 C668.7 402.2 670.4 405.9 672.5 408.0 C674.5 410.0 676.8 412.3 679.3 412.8 C681.8 413.2 684.8 412.0 687.5 410.7 C690.2 409.5 692.7 406.6 695.7 405.3 C698.7 403.9 702.3 402.9 705.3 402.5 C708.2 402.2 710.7 402.5 713.5 403.2 C716.2 403.9 718.5 405.4 721.6 406.6 C724.8 407.9 729.6 409.9 732.6 410.7 C735.5 411.5 736.7 411.9 739.4 411.4 C742.1 410.9 746.8 409.0 748.9 408.0 C751.0 407.0 750.1 405.9 752.0 405.3 C753.9 404.6 757.5 403.7 760.2 403.9 C762.9 404.1 765.4 405.7 768.4 406.6 C771.3 407.5 774.8 408.9 777.9 409.4 C781.1 409.8 783.9 409.8 787.5 409.4 C791.1 408.9 795.7 407.4 799.8 406.6 C803.9 405.8 808.2 405.1 812.1 404.6 C815.9 404.1 820.0 403.1 823.0 403.5 C825.9 403.8 828.0 405.3 829.8 406.6 C831.6 407.9 832.4 410.5 833.9 411.4 C835.4 412.3 837.4 413.0 838.7 412.1 C839.9 411.2 840.4 407.9 841.4 405.9 C842.4 404.0 843.4 401.2 844.8 400.5 C846.3 399.8 848.5 400.8 850.3 401.8 C852.1 402.9 854.0 404.9 855.8 406.6 C857.5 408.3 859.7 411.2 860.5 412.1" fill="none" stroke="#5c2b93" stroke-width="2.6" stroke-linecap="round" stroke-linejoin="round"/>
<path d="M654.7 424.4 C655.4 425.3 657.0 428.1 658.8 429.8 C660.7 431.5 663.6 433.9 665.7 434.6 C667.7 435.3 669.1 435.1 671.1 433.9 C673.2 432.8 675.9 429.1 678.0 427.8 C680.0 426.4 681.6 425.8 683.4 425.7 C685.2 425.6 687.1 426.0 688.9 427.1 C690.7 428.2 692.3 430.9 694.3 432.6 C696.4 434.3 698.7 436.3 701.2 437.3 C703.7 438.4 706.4 438.8 709.4 438.7 C712.3 438.6 716.0 437.7 718.9 436.7 C721.9 435.6 724.4 434.0 727.1 432.6 C729.8 431.1 732.6 428.8 735.3 427.8 C738.0 426.8 741.0 426.5 743.5 426.4 C746.0 426.4 748.9 427.4 750.3 427.5 C751.7 427.6 750.8 426.5 752.0 427.1 C753.2 427.7 755.4 429.8 757.5 431.2 C759.5 432.6 761.8 434.3 764.3 435.3 C766.8 436.3 769.7 437.5 772.5 437.3 C775.2 437.2 777.7 435.9 780.7 434.6 C783.6 433.4 787.3 431.3 790.2 429.8 C793.2 428.4 795.7 426.7 798.4 425.7 C801.1 424.8 804.1 424.0 806.6 424.0 C809.1 424.0 810.7 424.8 813.4 425.7 C816.2 426.7 819.8 428.5 823.0 429.8 C826.2 431.2 829.4 432.9 832.5 433.9 C835.7 434.9 839.1 436.0 842.1 436.0 C845.1 436.0 847.6 435.1 850.3 433.9 C853.0 432.8 856.0 430.5 858.5 429.1 C861.0 427.8 864.2 426.3 865.3 425.7" fill="none" stroke="#6ca045" stroke-width="2.2" stroke-linecap="round" stroke-linejoin="round"/>
<path d="M650.7 436.7 C651.8 435.3 655.2 430.6 657.5 428.5 C659.8 426.3 662.3 424.0 664.3 423.7 C666.4 423.3 667.9 424.7 669.8 426.4 C671.6 428.1 673.2 432.0 675.2 433.9 C677.3 435.9 679.5 437.7 682.1 438.0 C684.6 438.4 687.7 437.3 690.2 436.0 C692.7 434.6 694.6 431.8 697.1 429.8 C699.6 427.9 702.8 425.5 705.3 424.4 C707.8 423.2 709.8 422.9 712.1 423.0 C714.4 423.1 716.4 423.8 718.9 425.1 C721.4 426.3 724.4 428.8 727.1 430.5 C729.8 432.2 732.8 434.3 735.3 435.3 C737.8 436.3 739.6 436.9 742.1 436.7 C744.6 436.4 748.7 434.7 750.3 433.9 C752.0 433.1 750.8 432.9 752.0 431.9 C753.2 430.9 755.4 428.8 757.5 427.8 C759.5 426.8 762.2 425.7 764.3 425.7 C766.3 425.7 767.9 426.5 769.7 427.8 C771.6 429.0 773.4 431.5 775.2 433.2 C777.0 434.9 778.6 436.9 780.7 438.0 C782.7 439.2 784.8 440.1 787.5 440.1 C790.2 440.1 793.9 439.0 797.1 438.0 C800.2 437.0 803.4 435.4 806.6 433.9 C809.8 432.4 813.2 430.5 816.2 429.1 C819.1 427.8 822.0 426.5 824.4 425.7 C826.7 425.0 828.7 424.3 830.1 424.8 C831.5 425.3 832.0 427.2 832.5 428.9 C833.1 430.6 832.7 433.8 833.4 434.9 C834.0 435.9 835.2 436.0 836.6 435.3 C838.1 434.6 840.1 432.1 842.1 430.5 C844.2 428.9 846.7 426.0 848.9 425.7 C851.2 425.5 853.5 427.7 855.8 429.1 C858.0 430.6 861.4 433.7 862.6 434.6" fill="none" stroke="#5c2b93" stroke-width="2.6" stroke-linecap="round" stroke-linejoin="round"/>
<g opacity="0.78"><circle cx="487.3" cy="395.2" r="1.6" fill="#ecbccb"/><circle cx="491.6" cy="393.4" r="1.6" fill="#ecbccb"/><circle cx="489.4" cy="394.3" r="1.8" fill="#e39cb2"/><circle cx="489.1" cy="396.2" r="1.0" fill="#ecbccb"/></g>
<g opacity="0.78"><circle cx="423.8" cy="404.8" r="1.6" fill="#ecbccb"/><circle cx="428.1" cy="403.0" r="1.6" fill="#ecbccb"/><circle cx="425.9" cy="403.9" r="1.8" fill="#e39cb2"/><circle cx="425.6" cy="405.8" r="1.0" fill="#ecbccb"/></g>
<g opacity="0.78"><circle cx="445.7" cy="407.5" r="1.6" fill="#ecbccb"/><circle cx="450.0" cy="405.7" r="1.6" fill="#ecbccb"/><circle cx="447.8" cy="406.6" r="1.8" fill="#e39cb2"/><circle cx="447.5" cy="408.5" r="1.0" fill="#ecbccb"/></g>
<g opacity="0.78"><circle cx="471.6" cy="405.5" r="1.6" fill="#ecbccb"/><circle cx="475.9" cy="403.7" r="1.6" fill="#ecbccb"/><circle cx="473.7" cy="404.6" r="1.8" fill="#e39cb2"/><circle cx="473.4" cy="406.5" r="1.0" fill="#ecbccb"/></g>
<g opacity="0.78"><circle cx="503.7" cy="406.2" r="1.6" fill="#ecbccb"/><circle cx="508.0" cy="404.4" r="1.6" fill="#ecbccb"/><circle cx="505.8" cy="405.3" r="1.8" fill="#e39cb2"/><circle cx="505.5" cy="407.2" r="1.0" fill="#ecbccb"/></g>
<g opacity="0.78"><circle cx="455.2" cy="419.8" r="1.6" fill="#ecbccb"/><circle cx="459.5" cy="418.0" r="1.6" fill="#ecbccb"/><circle cx="457.3" cy="418.9" r="1.8" fill="#e39cb2"/><circle cx="457.0" cy="420.8" r="1.0" fill="#ecbccb"/></g>
<g opacity="0.78"><circle cx="410.2" cy="430.7" r="1.6" fill="#ecbccb"/><circle cx="414.5" cy="428.9" r="1.6" fill="#ecbccb"/><circle cx="412.3" cy="429.8" r="1.8" fill="#e39cb2"/><circle cx="412.0" cy="431.7" r="1.0" fill="#ecbccb"/></g>
<g opacity="0.78"><circle cx="443.6" cy="432.8" r="1.6" fill="#ecbccb"/><circle cx="447.9" cy="431.0" r="1.6" fill="#ecbccb"/><circle cx="445.7" cy="431.9" r="1.8" fill="#e39cb2"/><circle cx="445.4" cy="433.8" r="1.0" fill="#ecbccb"/></g>
<g opacity="0.78"><circle cx="470.3" cy="433.5" r="1.6" fill="#ecbccb"/><circle cx="474.6" cy="431.7" r="1.6" fill="#ecbccb"/><circle cx="472.4" cy="432.6" r="1.8" fill="#e39cb2"/><circle cx="472.1" cy="434.5" r="1.0" fill="#ecbccb"/></g>
<g opacity="0.78"><circle cx="500.3" cy="432.8" r="1.6" fill="#ecbccb"/><circle cx="504.6" cy="431.0" r="1.6" fill="#ecbccb"/><circle cx="502.4" cy="431.9" r="1.8" fill="#e39cb2"/><circle cx="502.1" cy="433.8" r="1.0" fill="#ecbccb"/></g>
<g opacity="0.78"><circle cx="488.7" cy="443.7" r="1.6" fill="#ecbccb"/><circle cx="493.0" cy="441.9" r="1.6" fill="#ecbccb"/><circle cx="490.8" cy="442.8" r="1.8" fill="#e39cb2"/><circle cx="490.5" cy="444.7" r="1.0" fill="#ecbccb"/></g>
<g opacity="0.78"><circle cx="578.4" cy="395.9" r="1.6" fill="#ecbccb"/><circle cx="582.7" cy="394.1" r="1.6" fill="#ecbccb"/><circle cx="580.5" cy="395.0" r="1.8" fill="#e39cb2"/><circle cx="580.2" cy="396.9" r="1.0" fill="#ecbccb"/></g>
<g opacity="0.78"><circle cx="523.1" cy="408.2" r="1.6" fill="#ecbccb"/><circle cx="527.4" cy="406.4" r="1.6" fill="#ecbccb"/><circle cx="525.2" cy="407.3" r="1.8" fill="#e39cb2"/><circle cx="524.9" cy="409.2" r="1.0" fill="#ecbccb"/></g>
<g opacity="0.78"><circle cx="608.5" cy="409.6" r="1.6" fill="#ecbccb"/><circle cx="612.8" cy="407.8" r="1.6" fill="#ecbccb"/><circle cx="610.6" cy="408.7" r="1.8" fill="#e39cb2"/><circle cx="610.3" cy="410.6" r="1.0" fill="#ecbccb"/></g>
<g opacity="0.78"><circle cx="624.8" cy="406.2" r="1.6" fill="#ecbccb"/><circle cx="629.1" cy="404.4" r="1.6" fill="#ecbccb"/><circle cx="626.9" cy="405.3" r="1.8" fill="#e39cb2"/><circle cx="626.6" cy="407.2" r="1.0" fill="#ecbccb"/></g>
<g opacity="0.78"><circle cx="543.6" cy="419.8" r="1.6" fill="#ecbccb"/><circle cx="547.9" cy="418.0" r="1.6" fill="#ecbccb"/><circle cx="545.7" cy="418.9" r="1.8" fill="#e39cb2"/><circle cx="545.4" cy="420.8" r="1.0" fill="#ecbccb"/></g>
<g opacity="0.78"><circle cx="605.1" cy="421.9" r="1.6" fill="#ecbccb"/><circle cx="609.4" cy="420.1" r="1.6" fill="#ecbccb"/><circle cx="607.2" cy="421.0" r="1.8" fill="#e39cb2"/><circle cx="606.9" cy="422.9" r="1.0" fill="#ecbccb"/></g>
<g opacity="0.78"><circle cx="560.7" cy="431.4" r="1.6" fill="#ecbccb"/><circle cx="565.0" cy="429.6" r="1.6" fill="#ecbccb"/><circle cx="562.8" cy="430.5" r="1.8" fill="#e39cb2"/><circle cx="562.5" cy="432.4" r="1.0" fill="#ecbccb"/></g>
<g opacity="0.78"><circle cx="579.8" cy="443.0" r="1.6" fill="#ecbccb"/><circle cx="584.1" cy="441.2" r="1.6" fill="#ecbccb"/><circle cx="581.9" cy="442.1" r="1.8" fill="#e39cb2"/><circle cx="581.6" cy="444.0" r="1.0" fill="#ecbccb"/></g>
<g opacity="0.78"><circle cx="456.6" cy="462.3" r="1.6" fill="#ecbccb"/><circle cx="460.9" cy="460.5" r="1.6" fill="#ecbccb"/><circle cx="458.7" cy="461.4" r="1.8" fill="#e39cb2"/><circle cx="458.4" cy="463.3" r="1.0" fill="#ecbccb"/></g>
<g opacity="0.78"><circle cx="477.1" cy="466.8" r="1.6" fill="#ecbccb"/><circle cx="481.4" cy="465.0" r="1.6" fill="#ecbccb"/><circle cx="479.2" cy="465.9" r="1.8" fill="#e39cb2"/><circle cx="478.9" cy="467.8" r="1.0" fill="#ecbccb"/></g>
<g opacity="0.78"><circle cx="464.6" cy="472.2" r="1.6" fill="#ecbccb"/><circle cx="468.9" cy="470.4" r="1.6" fill="#ecbccb"/><circle cx="466.7" cy="471.3" r="1.8" fill="#e39cb2"/><circle cx="466.4" cy="473.2" r="1.0" fill="#ecbccb"/></g>
<g opacity="0.78"><circle cx="469.1" cy="486.8" r="1.6" fill="#ecbccb"/><circle cx="473.4" cy="485.0" r="1.6" fill="#ecbccb"/><circle cx="471.2" cy="485.9" r="1.8" fill="#e39cb2"/><circle cx="470.9" cy="487.8" r="1.0" fill="#ecbccb"/></g>
<g opacity="0.78"><circle cx="457.7" cy="500.7" r="1.6" fill="#ecbccb"/><circle cx="462.0" cy="498.9" r="1.6" fill="#ecbccb"/><circle cx="459.8" cy="499.8" r="1.8" fill="#e39cb2"/><circle cx="459.5" cy="501.7" r="1.0" fill="#ecbccb"/></g>
<g opacity="0.78"><circle cx="483.2" cy="499.6" r="1.6" fill="#ecbccb"/><circle cx="487.5" cy="497.8" r="1.6" fill="#ecbccb"/><circle cx="485.3" cy="498.7" r="1.8" fill="#e39cb2"/><circle cx="485.0" cy="500.6" r="1.0" fill="#ecbccb"/></g>
<g opacity="0.78"><circle cx="477.9" cy="510.2" r="1.6" fill="#ecbccb"/><circle cx="482.2" cy="508.4" r="1.6" fill="#ecbccb"/><circle cx="480.0" cy="509.3" r="1.8" fill="#e39cb2"/><circle cx="479.7" cy="511.2" r="1.0" fill="#ecbccb"/></g>
<g opacity="0.78"><circle cx="459.8" cy="515.6" r="1.6" fill="#ecbccb"/><circle cx="464.1" cy="513.8" r="1.6" fill="#ecbccb"/><circle cx="461.9" cy="514.7" r="1.8" fill="#e39cb2"/><circle cx="461.6" cy="516.6" r="1.0" fill="#ecbccb"/></g>
<g opacity="0.78"><circle cx="489.1" cy="442.9" r="1.6" fill="#ecbccb"/><circle cx="493.4" cy="441.1" r="1.6" fill="#ecbccb"/><circle cx="491.2" cy="442.0" r="1.8" fill="#e39cb2"/><circle cx="490.9" cy="443.9" r="1.0" fill="#ecbccb"/></g>
<g opacity="0.78"><circle cx="556.2" cy="461.5" r="1.6" fill="#ecbccb"/><circle cx="560.5" cy="459.7" r="1.6" fill="#ecbccb"/><circle cx="558.3" cy="460.6" r="1.8" fill="#e39cb2"/><circle cx="558.0" cy="462.5" r="1.0" fill="#ecbccb"/></g>
<g opacity="0.78"><circle cx="579.6" cy="465.0" r="1.6" fill="#ecbccb"/><circle cx="583.9" cy="463.2" r="1.6" fill="#ecbccb"/><circle cx="581.7" cy="464.1" r="1.8" fill="#e39cb2"/><circle cx="581.4" cy="466.0" r="1.0" fill="#ecbccb"/></g>
<g opacity="0.78"><circle cx="565.7" cy="468.7" r="1.6" fill="#ecbccb"/><circle cx="570.0" cy="466.9" r="1.6" fill="#ecbccb"/><circle cx="567.8" cy="467.8" r="1.8" fill="#e39cb2"/><circle cx="567.5" cy="469.7" r="1.0" fill="#ecbccb"/></g>
<g opacity="0.78"><circle cx="563.6" cy="485.5" r="1.6" fill="#ecbccb"/><circle cx="567.9" cy="483.7" r="1.6" fill="#ecbccb"/><circle cx="565.7" cy="484.6" r="1.8" fill="#e39cb2"/><circle cx="565.4" cy="486.5" r="1.0" fill="#ecbccb"/></g>
<g opacity="0.78"><circle cx="556.2" cy="501.5" r="1.6" fill="#ecbccb"/><circle cx="560.5" cy="499.7" r="1.6" fill="#ecbccb"/><circle cx="558.3" cy="500.6" r="1.8" fill="#e39cb2"/><circle cx="558.0" cy="502.5" r="1.0" fill="#ecbccb"/></g>
<g opacity="0.78"><circle cx="572.9" cy="500.7" r="1.6" fill="#ecbccb"/><circle cx="577.2" cy="498.9" r="1.6" fill="#ecbccb"/><circle cx="575.0" cy="499.8" r="1.8" fill="#e39cb2"/><circle cx="574.7" cy="501.7" r="1.0" fill="#ecbccb"/></g>
<g opacity="0.78"><circle cx="553.5" cy="515.6" r="1.6" fill="#ecbccb"/><circle cx="557.8" cy="513.8" r="1.6" fill="#ecbccb"/><circle cx="555.6" cy="514.7" r="1.8" fill="#e39cb2"/><circle cx="555.3" cy="516.6" r="1.0" fill="#ecbccb"/></g>
<g opacity="0.78"><circle cx="572.1" cy="515.6" r="1.6" fill="#ecbccb"/><circle cx="576.4" cy="513.8" r="1.6" fill="#ecbccb"/><circle cx="574.2" cy="514.7" r="1.8" fill="#e39cb2"/><circle cx="573.9" cy="516.6" r="1.0" fill="#ecbccb"/></g>
<g opacity="0.78"><circle cx="580.1" cy="442.9" r="1.6" fill="#ecbccb"/><circle cx="584.4" cy="441.1" r="1.6" fill="#ecbccb"/><circle cx="582.2" cy="442.0" r="1.8" fill="#e39cb2"/><circle cx="581.9" cy="443.9" r="1.0" fill="#ecbccb"/></g>
<g><circle cx="726.4" cy="369.4" r="2.1" fill="#dcc6d3"/><circle cx="732.3" cy="366.4" r="2.1" fill="#dcc6d3"/><circle cx="729.2" cy="367.6" r="2.6" fill="#d98c9e"/></g>
<g><circle cx="718.2" cy="381.7" r="2.1" fill="#dcc6d3"/><circle cx="724.1" cy="378.7" r="2.1" fill="#dcc6d3"/><circle cx="721.0" cy="379.9" r="2.6" fill="#d98c9e"/></g>
<g><circle cx="728.4" cy="379.7" r="2.1" fill="#dcc6d3"/><circle cx="734.3" cy="376.7" r="2.1" fill="#dcc6d3"/><circle cx="731.2" cy="377.9" r="2.6" fill="#d98c9e"/></g>
<g><circle cx="741.7" cy="382.8" r="2.1" fill="#dcc6d3"/><circle cx="747.6" cy="379.8" r="2.1" fill="#dcc6d3"/><circle cx="744.5" cy="381.0" r="2.6" fill="#d98c9e"/></g>
<g><circle cx="725.3" cy="392.0" r="2.1" fill="#dcc6d3"/><circle cx="731.2" cy="389.0" r="2.1" fill="#dcc6d3"/><circle cx="728.1" cy="390.2" r="2.6" fill="#d98c9e"/></g>
<g><circle cx="811.7" cy="368.4" r="2.1" fill="#dcc6d3"/><circle cx="817.6" cy="365.4" r="2.1" fill="#dcc6d3"/><circle cx="814.5" cy="366.6" r="2.6" fill="#d98c9e"/></g>
<g><circle cx="807.2" cy="382.8" r="2.1" fill="#dcc6d3"/><circle cx="813.1" cy="379.8" r="2.1" fill="#dcc6d3"/><circle cx="810.0" cy="381.0" r="2.6" fill="#d98c9e"/></g>
<g><circle cx="816.4" cy="378.3" r="2.1" fill="#dcc6d3"/><circle cx="822.3" cy="375.3" r="2.1" fill="#dcc6d3"/><circle cx="819.2" cy="376.5" r="2.6" fill="#d98c9e"/></g>
<g><circle cx="829.5" cy="377.6" r="2.1" fill="#dcc6d3"/><circle cx="835.4" cy="374.6" r="2.1" fill="#dcc6d3"/><circle cx="832.3" cy="375.8" r="2.6" fill="#d98c9e"/></g>
<g><circle cx="815.8" cy="391.0" r="2.1" fill="#dcc6d3"/><circle cx="821.7" cy="388.0" r="2.1" fill="#dcc6d3"/><circle cx="818.6" cy="389.2" r="2.6" fill="#d98c9e"/></g>
<line x1="699.5" y1="459.5" x2="706.6" y2="467.6" stroke="#e6cfd8" stroke-width="0.8" />
<line x1="706.6" y1="467.6" x2="718.9" y2="468.7" stroke="#e6cfd8" stroke-width="0.8" />
<line x1="706.6" y1="467.6" x2="696.4" y2="473.8" stroke="#e6cfd8" stroke-width="0.8" />
<line x1="706.6" y1="467.6" x2="705.6" y2="482.0" stroke="#e6cfd8" stroke-width="0.8" />
<line x1="705.6" y1="482.0" x2="705.6" y2="493.7" stroke="#e6cfd8" stroke-width="0.8" />
<line x1="705.6" y1="493.7" x2="711.7" y2="502.5" stroke="#e6cfd8" stroke-width="0.8" />
<line x1="711.7" y1="502.5" x2="725.1" y2="503.5" stroke="#e6cfd8" stroke-width="0.8" />
<line x1="711.7" y1="502.5" x2="702.5" y2="509.6" stroke="#e6cfd8" stroke-width="0.8" />
<line x1="711.7" y1="502.5" x2="711.7" y2="516.8" stroke="#e6cfd8" stroke-width="0.8" />
<line x1="807.3" y1="442.0" x2="817.5" y2="449.2" stroke="#e6cfd8" stroke-width="0.8" />
<line x1="817.5" y1="449.2" x2="803.2" y2="458.4" stroke="#e6cfd8" stroke-width="0.8" />
<line x1="803.2" y1="458.4" x2="809.3" y2="467.6" stroke="#e6cfd8" stroke-width="0.8" />
<line x1="809.3" y1="467.6" x2="822.7" y2="468.7" stroke="#e6cfd8" stroke-width="0.8" />
<line x1="809.3" y1="467.6" x2="800.1" y2="473.8" stroke="#e6cfd8" stroke-width="0.8" />
<line x1="809.3" y1="467.6" x2="808.9" y2="481.0" stroke="#e6cfd8" stroke-width="0.8" />
<line x1="808.9" y1="481.0" x2="795.0" y2="497.3" stroke="#e6cfd8" stroke-width="0.8" />
<line x1="795.0" y1="497.3" x2="801.2" y2="506.6" stroke="#e6cfd8" stroke-width="0.8" />
<line x1="801.2" y1="506.6" x2="814.5" y2="506.6" stroke="#e6cfd8" stroke-width="0.8" />
<line x1="801.2" y1="506.6" x2="791.5" y2="512.7" stroke="#e6cfd8" stroke-width="0.8" />
<line x1="801.2" y1="506.6" x2="800.7" y2="520.0" stroke="#e6cfd8" stroke-width="0.8" />
<g><circle cx="688.3" cy="404.0" r="1.8" fill="#dcc6d3"/><circle cx="693.3" cy="401.5" r="1.8" fill="#dcc6d3"/><circle cx="690.7" cy="402.5" r="2.2" fill="#d98c9e"/></g>
<g><circle cx="694.0" cy="413.2" r="1.8" fill="#dcc6d3"/><circle cx="699.0" cy="410.7" r="1.8" fill="#dcc6d3"/><circle cx="696.4" cy="411.7" r="2.2" fill="#d98c9e"/></g>
<g><circle cx="683.1" cy="418.9" r="1.8" fill="#dcc6d3"/><circle cx="688.1" cy="416.4" r="1.8" fill="#dcc6d3"/><circle cx="685.5" cy="417.4" r="2.2" fill="#d98c9e"/></g>
<g><circle cx="706.3" cy="413.2" r="1.8" fill="#dcc6d3"/><circle cx="711.3" cy="410.7" r="1.8" fill="#dcc6d3"/><circle cx="708.7" cy="411.7" r="2.2" fill="#d98c9e"/></g>
<g><circle cx="693.0" cy="424.5" r="1.8" fill="#dcc6d3"/><circle cx="698.0" cy="422.0" r="1.8" fill="#dcc6d3"/><circle cx="695.4" cy="423.0" r="2.2" fill="#d98c9e"/></g>
<g><circle cx="720.6" cy="423.5" r="1.8" fill="#dcc6d3"/><circle cx="725.6" cy="421.0" r="1.8" fill="#dcc6d3"/><circle cx="723.0" cy="422.0" r="2.2" fill="#d98c9e"/></g>
<g><circle cx="724.7" cy="431.6" r="1.8" fill="#dcc6d3"/><circle cx="729.7" cy="429.1" r="1.8" fill="#dcc6d3"/><circle cx="727.1" cy="430.1" r="2.2" fill="#d98c9e"/></g>
<g><circle cx="716.6" cy="437.8" r="1.8" fill="#dcc6d3"/><circle cx="721.6" cy="435.3" r="1.8" fill="#dcc6d3"/><circle cx="719.0" cy="436.3" r="2.2" fill="#d98c9e"/></g>
<g><circle cx="725.7" cy="444.9" r="1.8" fill="#dcc6d3"/><circle cx="730.7" cy="442.4" r="1.8" fill="#dcc6d3"/><circle cx="728.1" cy="443.4" r="2.2" fill="#d98c9e"/></g>
<g><circle cx="698.1" cy="459.3" r="1.8" fill="#dcc6d3"/><circle cx="703.1" cy="456.8" r="1.8" fill="#dcc6d3"/><circle cx="700.5" cy="457.8" r="2.2" fill="#d98c9e"/></g>
<g><circle cx="779.9" cy="407.0" r="1.8" fill="#dcc6d3"/><circle cx="784.9" cy="404.5" r="1.8" fill="#dcc6d3"/><circle cx="782.3" cy="405.5" r="2.2" fill="#d98c9e"/></g>
<g><circle cx="785.4" cy="416.2" r="1.8" fill="#dcc6d3"/><circle cx="790.4" cy="413.7" r="1.8" fill="#dcc6d3"/><circle cx="787.8" cy="414.7" r="2.2" fill="#d98c9e"/></g>
<g><circle cx="797.7" cy="414.2" r="1.8" fill="#dcc6d3"/><circle cx="802.7" cy="411.7" r="1.8" fill="#dcc6d3"/><circle cx="800.1" cy="412.7" r="2.2" fill="#d98c9e"/></g>
<g><circle cx="775.8" cy="421.4" r="1.8" fill="#dcc6d3"/><circle cx="780.8" cy="418.9" r="1.8" fill="#dcc6d3"/><circle cx="778.2" cy="419.9" r="2.2" fill="#d98c9e"/></g>
<g><circle cx="783.4" cy="428.5" r="1.8" fill="#dcc6d3"/><circle cx="788.4" cy="426.0" r="1.8" fill="#dcc6d3"/><circle cx="785.8" cy="427.0" r="2.2" fill="#d98c9e"/></g>
<g><circle cx="810.0" cy="429.6" r="1.8" fill="#dcc6d3"/><circle cx="815.0" cy="427.1" r="1.8" fill="#dcc6d3"/><circle cx="812.4" cy="428.1" r="2.2" fill="#d98c9e"/></g>
<g><circle cx="815.6" cy="437.3" r="1.8" fill="#dcc6d3"/><circle cx="820.6" cy="434.8" r="1.8" fill="#dcc6d3"/><circle cx="818.0" cy="435.8" r="2.2" fill="#d98c9e"/></g>
<g><circle cx="803.9" cy="442.9" r="1.8" fill="#dcc6d3"/><circle cx="808.9" cy="440.4" r="1.8" fill="#dcc6d3"/><circle cx="806.3" cy="441.4" r="2.2" fill="#d98c9e"/></g>
<g><circle cx="827.4" cy="438.8" r="1.8" fill="#dcc6d3"/><circle cx="832.4" cy="436.3" r="1.8" fill="#dcc6d3"/><circle cx="829.8" cy="437.3" r="2.2" fill="#d98c9e"/></g>
<g><circle cx="814.7" cy="451.1" r="1.8" fill="#dcc6d3"/><circle cx="819.7" cy="448.6" r="1.8" fill="#dcc6d3"/><circle cx="817.1" cy="449.6" r="2.2" fill="#d98c9e"/></g>
<g><circle cx="801.8" cy="459.3" r="1.8" fill="#dcc6d3"/><circle cx="806.8" cy="456.8" r="1.8" fill="#dcc6d3"/><circle cx="804.2" cy="457.8" r="2.2" fill="#d98c9e"/></g>
<g><circle cx="697.1" cy="461.0" r="1.8" fill="#dcc6d3"/><circle cx="702.1" cy="458.5" r="1.8" fill="#dcc6d3"/><circle cx="699.5" cy="459.5" r="2.2" fill="#d98c9e"/></g>
<g><circle cx="704.2" cy="469.1" r="1.8" fill="#dcc6d3"/><circle cx="709.2" cy="466.6" r="1.8" fill="#dcc6d3"/><circle cx="706.6" cy="467.6" r="2.2" fill="#d98c9e"/></g>
<g><circle cx="716.5" cy="470.2" r="1.8" fill="#dcc6d3"/><circle cx="721.5" cy="467.7" r="1.8" fill="#dcc6d3"/><circle cx="718.9" cy="468.7" r="2.2" fill="#d98c9e"/></g>
<g><circle cx="694.0" cy="475.3" r="1.8" fill="#dcc6d3"/><circle cx="699.0" cy="472.8" r="1.8" fill="#dcc6d3"/><circle cx="696.4" cy="473.8" r="2.2" fill="#d98c9e"/></g>
<g><circle cx="703.2" cy="483.5" r="1.8" fill="#dcc6d3"/><circle cx="708.2" cy="481.0" r="1.8" fill="#dcc6d3"/><circle cx="705.6" cy="482.0" r="2.2" fill="#d98c9e"/></g>
<g><circle cx="703.2" cy="495.2" r="1.8" fill="#dcc6d3"/><circle cx="708.2" cy="492.7" r="1.8" fill="#dcc6d3"/><circle cx="705.6" cy="493.7" r="2.2" fill="#d98c9e"/></g>
<g><circle cx="709.3" cy="504.0" r="1.8" fill="#dcc6d3"/><circle cx="714.3" cy="501.5" r="1.8" fill="#dcc6d3"/><circle cx="711.7" cy="502.5" r="2.2" fill="#d98c9e"/></g>
<g><circle cx="722.7" cy="505.0" r="1.8" fill="#dcc6d3"/><circle cx="727.7" cy="502.5" r="1.8" fill="#dcc6d3"/><circle cx="725.1" cy="503.5" r="2.2" fill="#d98c9e"/></g>
<g><circle cx="700.1" cy="511.1" r="1.8" fill="#dcc6d3"/><circle cx="705.1" cy="508.6" r="1.8" fill="#dcc6d3"/><circle cx="702.5" cy="509.6" r="2.2" fill="#d98c9e"/></g>
<g><circle cx="709.3" cy="518.3" r="1.8" fill="#dcc6d3"/><circle cx="714.3" cy="515.8" r="1.8" fill="#dcc6d3"/><circle cx="711.7" cy="516.8" r="2.2" fill="#d98c9e"/></g>
<g><circle cx="804.9" cy="443.5" r="1.8" fill="#dcc6d3"/><circle cx="809.9" cy="441.0" r="1.8" fill="#dcc6d3"/><circle cx="807.3" cy="442.0" r="2.2" fill="#d98c9e"/></g>
<g><circle cx="815.1" cy="450.7" r="1.8" fill="#dcc6d3"/><circle cx="820.1" cy="448.2" r="1.8" fill="#dcc6d3"/><circle cx="817.5" cy="449.2" r="2.2" fill="#d98c9e"/></g>
<g><circle cx="800.8" cy="459.9" r="1.8" fill="#dcc6d3"/><circle cx="805.8" cy="457.4" r="1.8" fill="#dcc6d3"/><circle cx="803.2" cy="458.4" r="2.2" fill="#d98c9e"/></g>
<g><circle cx="806.9" cy="469.1" r="1.8" fill="#dcc6d3"/><circle cx="811.9" cy="466.6" r="1.8" fill="#dcc6d3"/><circle cx="809.3" cy="467.6" r="2.2" fill="#d98c9e"/></g>
<g><circle cx="820.3" cy="470.2" r="1.8" fill="#dcc6d3"/><circle cx="825.3" cy="467.7" r="1.8" fill="#dcc6d3"/><circle cx="822.7" cy="468.7" r="2.2" fill="#d98c9e"/></g>
<g><circle cx="797.7" cy="475.3" r="1.8" fill="#dcc6d3"/><circle cx="802.7" cy="472.8" r="1.8" fill="#dcc6d3"/><circle cx="800.1" cy="473.8" r="2.2" fill="#d98c9e"/></g>
<g><circle cx="806.5" cy="482.5" r="1.8" fill="#dcc6d3"/><circle cx="811.5" cy="480.0" r="1.8" fill="#dcc6d3"/><circle cx="808.9" cy="481.0" r="2.2" fill="#d98c9e"/></g>
<g><circle cx="792.6" cy="498.8" r="1.8" fill="#dcc6d3"/><circle cx="797.6" cy="496.3" r="1.8" fill="#dcc6d3"/><circle cx="795.0" cy="497.3" r="2.2" fill="#d98c9e"/></g>
<g><circle cx="798.8" cy="508.1" r="1.8" fill="#dcc6d3"/><circle cx="803.8" cy="505.6" r="1.8" fill="#dcc6d3"/><circle cx="801.2" cy="506.6" r="2.2" fill="#d98c9e"/></g>
<g><circle cx="812.1" cy="508.1" r="1.8" fill="#dcc6d3"/><circle cx="817.1" cy="505.6" r="1.8" fill="#dcc6d3"/><circle cx="814.5" cy="506.6" r="2.2" fill="#d98c9e"/></g>
<g><circle cx="789.1" cy="514.2" r="1.8" fill="#dcc6d3"/><circle cx="794.1" cy="511.7" r="1.8" fill="#dcc6d3"/><circle cx="791.5" cy="512.7" r="2.2" fill="#d98c9e"/></g>
<g><circle cx="798.3" cy="521.5" r="1.8" fill="#dcc6d3"/><circle cx="803.3" cy="519.0" r="1.8" fill="#dcc6d3"/><circle cx="800.7" cy="520.0" r="2.2" fill="#d98c9e"/></g>
<text x="524.3" y="334.4" font-size="14.4" text-anchor="middle" fill="#111"  stroke="#111" stroke-width="0.3">Thermally-driven</text>
<text x="765.0" y="334.4" font-size="14.6" text-anchor="middle" fill="#111"  stroke="#111" stroke-width="0.3">Pressure-driven</text>
<text x="415.9" y="359.6" font-size="15" text-anchor="start" fill="#3b0a0a" stroke="#3b0a0a" stroke-width="0.35">Feed</text>
<text x="652.3" y="359.6" font-size="15" text-anchor="start" fill="#0a2040" stroke="#0a2040" stroke-width="0.35">Feed</text>
<text x="415.8" y="549.3" font-size="15" text-anchor="start" fill="#0a2350" stroke="#0a2350" stroke-width="0.35">Permeate</text>
<text x="652.8" y="549.3" font-size="15" text-anchor="start" fill="#0a2350" stroke="#0a2350" stroke-width="0.35">Permeate</text>
<line x1="924.0" y1="347.0" x2="924.3" y2="356.0" stroke="#333" stroke-width="1.0" stroke-dasharray="1.7 1.3"/>
<line x1="903.0" y1="370.3" x2="913.0" y2="370.5" stroke="#333" stroke-width="1.0" stroke-dasharray="1.7 1.3"/>
<line x1="936.0" y1="377.0" x2="952.0" y2="381.5" stroke="#333" stroke-width="1.0" stroke-dasharray="1.7 1.3"/>
<line x1="917.0" y1="379.5" x2="909.0" y2="393.0" stroke="#333" stroke-width="1.0" stroke-dasharray="1.7 1.3"/>
<circle cx="912.5" cy="332.0" r="5.2" fill="url(#hyd)"/>
<circle cx="924.0" cy="337.4" r="9.8" fill="url(#oxy)"/>
<circle cx="924.3" cy="337.7" r="2.3" fill="none" stroke="#3a2a2a" stroke-width="0.75"/>
<circle cx="930.8" cy="328.0" r="5.2" fill="url(#hyd)"/>
<text x="930.8" y="329.7" font-size="4.8" text-anchor="middle" fill="#2b3a44" font-weight="bold">H</text>
<circle cx="883.8" cy="379.3" r="5.2" fill="url(#hyd)"/>
<circle cx="888.2" cy="367.6" r="9.8" fill="url(#oxy)"/>
<circle cx="888.5" cy="367.9" r="2.3" fill="none" stroke="#3a2a2a" stroke-width="0.75"/>
<circle cx="899.8" cy="370.0" r="5.2" fill="url(#hyd)"/>
<text x="899.8" y="371.7" font-size="4.8" text-anchor="middle" fill="#2b3a44" font-weight="bold">H</text>
<circle cx="933.0" cy="375.5" r="5.2" fill="url(#hyd)"/>
<circle cx="922.2" cy="370.7" r="9.8" fill="url(#oxy)"/>
<circle cx="922.5" cy="371.0" r="2.3" fill="none" stroke="#3a2a2a" stroke-width="0.75"/>
<circle cx="924.3" cy="359.2" r="5.2" fill="url(#hyd)"/>
<text x="924.3" y="360.9" font-size="4.8" text-anchor="middle" fill="#2b3a44" font-weight="bold">H</text>
<circle cx="955.8" cy="395.3" r="5.2" fill="url(#hyd)"/>
<circle cx="960.6" cy="384.7" r="9.8" fill="url(#oxy)"/>
<circle cx="960.9" cy="385.0" r="2.3" fill="none" stroke="#3a2a2a" stroke-width="0.75"/>
<circle cx="971.6" cy="386.4" r="5.2" fill="url(#hyd)"/>
<text x="971.6" y="388.1" font-size="4.8" text-anchor="middle" fill="#2b3a44" font-weight="bold">H</text>
<circle cx="909.6" cy="414.0" r="5.2" fill="url(#hyd)"/>
<circle cx="901.0" cy="406.5" r="9.8" fill="url(#oxy)"/>
<circle cx="901.3" cy="406.8" r="2.3" fill="none" stroke="#3a2a2a" stroke-width="0.75"/>
<circle cx="906.5" cy="395.8" r="5.2" fill="url(#hyd)"/>
<text x="906.5" y="397.5" font-size="4.8" text-anchor="middle" fill="#2b3a44" font-weight="bold">H</text>
<circle cx="1001.8" cy="373.4" r="5.2" fill="url(#hyd)"/>
<circle cx="1006.0" cy="364.6" r="9.4" fill="url(#oxy)"/>
<circle cx="1016.0" cy="366.2" r="5.2" fill="url(#hyd)"/>
<line x1="926.0" y1="350.7" x2="940.5" y2="350.7" stroke="#d22" stroke-width="0.9" stroke-dasharray="1.7 1.3"/>
<path d="M944.2 350.7 L939.8 348.7 L939.8 352.7Z" fill="#d22"/>
<text x="945.8" y="352.7" font-size="5.7" text-anchor="start" fill="#222" font-weight="bold">Hydrogen bond</text>
<text x="924.0" y="432.1" font-size="11.2" text-anchor="middle" fill="#111"  stroke="#111" stroke-width="0.3">water cluster</text>
<text x="1012.0" y="432.1" font-size="11.2" text-anchor="middle" fill="#111"  stroke="#111" stroke-width="0.3">Free vapor</text>
<path d="M886.4 452.6 Q897 449.6 909 451.8 T933.3 451.2 L933.3 463.4 Q922 466.4 910 464.4 T886.4 464.6Z" fill="#ad894e"/>
<text x="937.8" y="462.5" font-size="11.2" text-anchor="start" fill="#111"  stroke="#111" stroke-width="0.3">GO nanosheets</text>
<path d="M888.3 481.2 C889.6 480.5 892.8 477.0 896.1 477.2 C899.4 477.3 904.0 482.0 908.3 482.0 C912.5 482.1 917.2 477.2 921.6 477.6 C926.0 478.0 930.9 484.3 934.9 484.3 C939.0 484.3 944.2 478.7 946.0 477.6" fill="none" stroke="#5c2b93" stroke-width="2.7" stroke-linecap="round"/>
<text x="958.0" y="483.6" font-size="11.2" text-anchor="start" fill="#111"  stroke="#111" stroke-width="0.3">PVA</text>
<path d="M888.3 503.8 C889.6 503.2 892.8 500.2 896.1 500.5 C899.4 500.8 904.2 505.5 908.3 505.6 C912.4 505.7 916.2 500.9 920.5 501.1 C924.7 501.4 929.6 507.1 933.8 507.1 C938.1 507.1 944.0 502.1 946.0 501.1" fill="none" stroke="#6ca045" stroke-width="2.5" stroke-linecap="round"/>
<text x="958.0" y="507.8" font-size="11.2" text-anchor="start" fill="#111"  stroke="#111" stroke-width="0.3">PAA</text>
<path d="M895.4 517.6 C895.8 518.4 897.9 520.7 897.4 522.7 C897.0 524.6 892.9 527.4 892.8 529.3 C892.6 531.2 896.1 532.2 896.3 534.2 C896.5 536.2 893.5 539.7 893.9 541.5 C894.2 543.3 895.8 544.2 898.5 544.9 C901.3 545.5 907.5 545.9 910.5 545.3 C913.5 544.7 915.5 543.3 916.3 541.5 C917.1 539.8 914.9 536.9 915.4 534.9 C915.8 532.8 919.0 531.3 918.9 529.3 C918.9 527.3 915.4 524.8 914.9 522.9 C914.5 521.0 916.1 518.8 916.3 518.0 Z" fill="#cfcfd0" stroke="none"/>
<path d="M895.4 517.6 C895.8 518.4 897.9 520.7 897.4 522.7 C897.0 524.6 892.9 527.4 892.8 529.3 C892.6 531.2 896.1 532.2 896.3 534.2 C896.5 536.2 893.5 539.7 893.9 541.5 C894.2 543.3 895.8 544.2 898.5 544.9 C901.3 545.5 907.5 545.9 910.5 545.3 C913.5 544.7 915.5 543.3 916.3 541.5 C917.1 539.8 914.9 536.9 915.4 534.9 C915.8 532.8 919.0 531.3 918.9 529.3 C918.9 527.3 915.4 524.8 914.9 522.9 C914.5 521.0 916.1 518.8 916.3 518.0" fill="none" stroke="#222" stroke-width="1.3" stroke-linecap="round"/>
<text x="951.9" y="533.0" font-size="11.2" text-anchor="start" fill="#111"  stroke="#111" stroke-width="0.3">Substrate</text>
<rect x="401.3" y="310.0" width="640.9" height="248.9" fill="none" stroke="#111" stroke-width="1.8"/>
</svg>
</body>
</html>
